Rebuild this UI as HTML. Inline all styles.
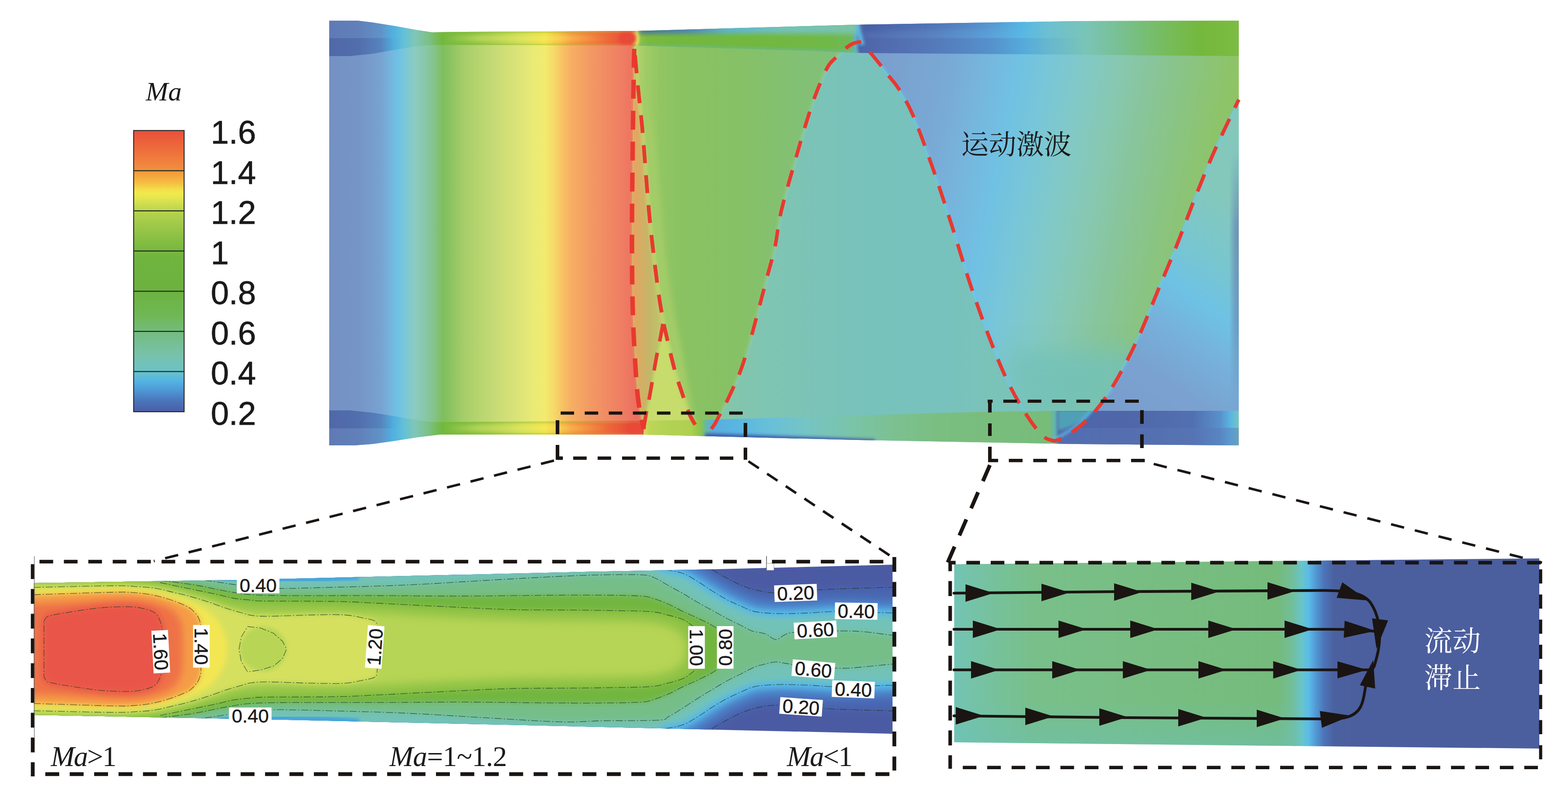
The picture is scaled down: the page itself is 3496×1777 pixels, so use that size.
<!DOCTYPE html>
<html><head><meta charset="utf-8"><title>Ma contour</title>
<style>
html,body{margin:0;padding:0;background:#fff;}
body{width:3496px;height:1777px;overflow:hidden;}
svg{display:block;}
text{font-family:"Liberation Sans",sans-serif;fill:#1a1a1a;}
.se{font-family:"Liberation Serif",serif;}
.it{font-style:italic;}
.cj{font-family:"Liberation Serif","Noto Serif CJK SC",serif;}
</style></head><body>
<svg width="3496" height="1777" viewBox="0 0 3496 1777">
<defs>
<linearGradient id="lg" x1="0" y1="291" x2="0" y2="918" gradientUnits="userSpaceOnUse">
<stop offset="0" stop-color="#e8503a"/>
<stop offset="0.07" stop-color="#ee6e3c"/>
<stop offset="0.135" stop-color="#f28c3e"/>
<stop offset="0.15" stop-color="#f49c3c"/>
<stop offset="0.185" stop-color="#f6bc42"/>
<stop offset="0.21" stop-color="#f4de4a"/>
<stop offset="0.222" stop-color="#f1ea4c"/>
<stop offset="0.24" stop-color="#e4e64e"/>
<stop offset="0.27" stop-color="#c6da4e"/>
<stop offset="0.30" stop-color="#b0d04c"/>
<stop offset="0.33" stop-color="#a2ca4a"/>
<stop offset="0.40" stop-color="#82bc42"/>
<stop offset="0.45" stop-color="#70b43e"/>
<stop offset="0.57" stop-color="#6cb240"/>
<stop offset="0.66" stop-color="#70b856"/>
<stop offset="0.72" stop-color="#74bc80"/>
<stop offset="0.80" stop-color="#78c2ac"/>
<stop offset="0.855" stop-color="#6cc2c6"/>
<stop offset="0.885" stop-color="#56b8e2"/>
<stop offset="0.92" stop-color="#4e9cd8"/>
<stop offset="0.96" stop-color="#4a76bc"/>
<stop offset="1" stop-color="#4a5ea6"/>
</linearGradient>
<clipPath id="cpMain"><path d="M734.0,46.0L797.0,46.0L830.0,50.0L880.0,58.0L930.0,67.0L963.0,72.0L1033.0,71.0L1418.0,69.0L1914.0,55.0L2400.0,47.0L2762.0,46.0L2762.0,993.0L2400.0,990.0L1914.0,981.0L1435.0,969.0L1033.0,969.0L980.0,969.0L930.0,975.0L880.0,983.0L830.0,990.0L790.0,993.0L734.0,993.0Z"/></clipPath>
<linearGradient id="gBase" x1="734" x2="1418" y1="0" y2="0" gradientUnits="userSpaceOnUse"><stop offset="0.0000" stop-color="#7591c4"/><stop offset="0.0965" stop-color="#7695c7"/><stop offset="0.1696" stop-color="#78a3d1"/><stop offset="0.2018" stop-color="#74b6de"/><stop offset="0.2251" stop-color="#6fc2e5"/><stop offset="0.2500" stop-color="#7dc8d6"/><stop offset="0.2792" stop-color="#8bcbc1"/><stop offset="0.3158" stop-color="#88c7a6"/><stop offset="0.3480" stop-color="#84c282"/><stop offset="0.3713" stop-color="#7ebe5e"/><stop offset="0.3889" stop-color="#88c260"/><stop offset="0.4327" stop-color="#a3cc68"/><stop offset="0.4912" stop-color="#b8d56f"/><stop offset="0.5497" stop-color="#c9dc76"/><stop offset="0.6228" stop-color="#dde577"/><stop offset="0.6667" stop-color="#eaea76"/><stop offset="0.7032" stop-color="#f2eb70"/><stop offset="0.7325" stop-color="#f6da68"/><stop offset="0.7617" stop-color="#f8c064"/><stop offset="0.7909" stop-color="#f7ae63"/><stop offset="0.8421" stop-color="#f39c64"/><stop offset="0.9152" stop-color="#f08864"/><stop offset="0.9737" stop-color="#ee7862"/><stop offset="1.0000" stop-color="#ed6f60"/></linearGradient>
<linearGradient id="gStrip" x1="734" x2="1418" y1="0" y2="0" gradientUnits="userSpaceOnUse"><stop offset="0.0000" stop-color="#5f7ab5"/><stop offset="0.0965" stop-color="#6180ba"/><stop offset="0.1696" stop-color="#5f93c8"/><stop offset="0.2105" stop-color="#52b2e0"/><stop offset="0.2427" stop-color="#62c0d8"/><stop offset="0.2792" stop-color="#80c6b8"/><stop offset="0.3231" stop-color="#7cc088"/><stop offset="0.3670" stop-color="#72b83e"/><stop offset="0.4474" stop-color="#86c040"/><stop offset="0.5351" stop-color="#a8cc48"/><stop offset="0.6228" stop-color="#cfdc50"/><stop offset="0.7032" stop-color="#f0e246"/><stop offset="0.7471" stop-color="#f6c040"/><stop offset="0.7909" stop-color="#f59a3c"/><stop offset="0.8567" stop-color="#f07c3a"/><stop offset="0.9298" stop-color="#ec5e3a"/><stop offset="0.9883" stop-color="#e84a38"/><stop offset="1.0000" stop-color="#e84a38"/></linearGradient>
<linearGradient id="gStrip2" x1="734" x2="1418" y1="0" y2="0" gradientUnits="userSpaceOnUse"><stop offset="0.0000" stop-color="#5068a8"/><stop offset="0.0965" stop-color="#526eac"/><stop offset="0.1696" stop-color="#5684be"/><stop offset="0.2105" stop-color="#50aede"/><stop offset="0.2427" stop-color="#62c0d8"/><stop offset="0.2792" stop-color="#80c6b8"/><stop offset="0.3231" stop-color="#7cc088"/><stop offset="0.3670" stop-color="#72b83e"/><stop offset="0.4474" stop-color="#86c040"/><stop offset="0.5351" stop-color="#a8cc48"/><stop offset="0.6228" stop-color="#cfdc50"/><stop offset="0.7032" stop-color="#f0e246"/><stop offset="0.7471" stop-color="#f6c040"/><stop offset="0.7909" stop-color="#f59a3c"/><stop offset="0.8567" stop-color="#f07c3a"/><stop offset="0.9298" stop-color="#ec5e3a"/><stop offset="0.9883" stop-color="#e84a38"/><stop offset="1.0000" stop-color="#e84a38"/></linearGradient>
<linearGradient id="gGreen" x1="1418" x2="1912" y1="0" y2="0" gradientUnits="userSpaceOnUse"><stop offset="0.0000" stop-color="#b6d56c"/><stop offset="0.0445" stop-color="#a0cb66"/><stop offset="0.1053" stop-color="#92c663"/><stop offset="0.2065" stop-color="#8ac262"/><stop offset="0.4696" stop-color="#86c166"/><stop offset="0.7328" stop-color="#82c074"/><stop offset="1.0000" stop-color="#80c07c"/></linearGradient>
<linearGradient id="gTeal" x1="1573" x2="2351" y1="0" y2="0" gradientUnits="userSpaceOnUse"><stop offset="0.0000" stop-color="#86c6a6"/><stop offset="0.1632" stop-color="#80c5b2"/><stop offset="0.4203" stop-color="#78c2bb"/><stop offset="0.6774" stop-color="#77c2bd"/><stop offset="1.0000" stop-color="#7dc4b4"/></linearGradient>
<linearGradient id="gRB" x1="1900" y1="100" x2="2762" y2="272" gradientUnits="userSpaceOnUse"><stop offset="0" stop-color="#7a9ccb"/><stop offset="0.1" stop-color="#7aa0ce"/><stop offset="0.25" stop-color="#79a9d5"/><stop offset="0.34" stop-color="#76b6dd"/><stop offset="0.42" stop-color="#70c1e3"/><stop offset="0.5" stop-color="#78c6d8"/><stop offset="0.59" stop-color="#82c9c6"/><stop offset="0.67" stop-color="#87c8b2"/><stop offset="0.75" stop-color="#88c59c"/><stop offset="0.85" stop-color="#8ac482"/><stop offset="0.95" stop-color="#8dc469"/><stop offset="1" stop-color="#8fc460"/></linearGradient>
<filter id="bl3" x="-20%" y="-20%" width="140%" height="140%"><feGaussianBlur stdDeviation="3"/></filter>
<filter id="bl6" x="-20%" y="-20%" width="140%" height="140%"><feGaussianBlur stdDeviation="6"/></filter>
<filter id="bl12" x="-30%" y="-30%" width="160%" height="160%"><feGaussianBlur stdDeviation="12"/></filter>
<filter id="bl25" x="-40%" y="-40%" width="180%" height="180%"><feGaussianBlur stdDeviation="25"/></filter>
<filter id="bl40" x="-50%" y="-50%" width="200%" height="200%"><feGaussianBlur stdDeviation="40"/></filter>
<linearGradient id="gWedge" x1="1408" x2="1478" y1="0" y2="0" gradientUnits="userSpaceOnUse"><stop offset="0" stop-color="#f09c60"/><stop offset="0.25" stop-color="#d8ac64"/><stop offset="0.6" stop-color="#c2b668"/><stop offset="1" stop-color="#c0c86c"/></linearGradient>
<clipPath id="cpRB"><path d="M1920.0,93.0C1922.0,94.8 1927.7,98.8 1932.0,104.0C1936.3,109.2 1940.7,117.0 1946.0,124.0C1951.3,131.0 1957.8,138.2 1964.0,146.0C1970.2,153.8 1976.2,162.0 1983.0,171.0C1989.8,180.0 1996.2,185.5 2005.0,200.0C2013.8,214.5 2023.8,229.7 2036.0,258.0C2048.2,286.3 2064.0,330.3 2078.0,370.0C2092.0,409.7 2106.0,452.7 2120.0,496.0C2134.0,539.3 2148.0,588.0 2162.0,630.0C2176.0,672.0 2190.0,711.5 2204.0,748.0C2218.0,784.5 2232.0,819.7 2246.0,849.0C2260.0,878.3 2274.8,903.5 2288.0,924.0C2301.2,944.5 2314.5,962.2 2325.0,972.0C2335.5,981.8 2346.7,981.2 2351.0,983.0C2354.5,981.7 2361.5,981.3 2372.0,975.0C2382.5,968.7 2400.0,957.7 2414.0,945.0C2428.0,932.3 2442.0,917.8 2456.0,899.0C2470.0,880.2 2484.0,857.2 2498.0,832.0C2512.0,806.8 2526.0,778.8 2540.0,748.0C2554.0,717.2 2568.0,680.7 2582.0,647.0C2596.0,613.3 2610.0,581.0 2624.0,546.0C2638.0,511.0 2652.0,472.0 2666.0,437.0C2680.0,402.0 2692.0,371.8 2708.0,336.0C2724.0,300.2 2753.0,241.0 2762.0,222.0L2800,222L2800,30L1900,30L1900,92Z"/></clipPath>
<linearGradient id="gR2" x1="2450" y1="950" x2="2780" y2="480" gradientUnits="userSpaceOnUse"><stop offset="0" stop-color="#7a9ccc"/><stop offset="0.30" stop-color="#7aa2d0"/><stop offset="0.48" stop-color="#76b2dc"/><stop offset="0.62" stop-color="#6ec2e4"/><stop offset="0.78" stop-color="#78c6d0"/><stop offset="1" stop-color="#84c8bc"/></linearGradient>
<linearGradient id="gEdge" x1="0" y1="330" x2="0" y2="930" gradientUnits="userSpaceOnUse"><stop offset="0" stop-color="#6a8cb4" stop-opacity="0"/><stop offset="0.3" stop-color="#6a8cb4" stop-opacity="0.85"/><stop offset="0.65" stop-color="#6a8cb4" stop-opacity="0.7"/><stop offset="1" stop-color="#6a8cb4" stop-opacity="0"/></linearGradient>
<clipPath id="cpTop"><path d="M734.0,30.0L2762.0,30.0L2762.0,125.0L2400.0,122.0L1914.0,118.0L1800.0,113.0L1418.0,101.5L963.0,100.0L930.0,103.0L880.0,111.0L830.0,120.0L780.0,125.0L734.0,125.0Z"/></clipPath>
<linearGradient id="gTopPost" x1="1418" x2="2762" y1="0" y2="0" gradientUnits="userSpaceOnUse"><stop offset="0.0000" stop-color="#dce060"/><stop offset="0.0060" stop-color="#8cc244"/><stop offset="0.0201" stop-color="#7aba3c"/><stop offset="0.0610" stop-color="#74b83c"/><stop offset="0.2098" stop-color="#72b840"/><stop offset="0.3214" stop-color="#70b848"/><stop offset="0.3557" stop-color="#70b858"/><stop offset="0.3646" stop-color="#60b0c8"/><stop offset="0.3705" stop-color="#5068ac"/><stop offset="0.4033" stop-color="#5470b2"/><stop offset="0.4926" stop-color="#5a82c0"/><stop offset="0.5818" stop-color="#5a9ed6"/><stop offset="0.6414" stop-color="#58b8e4"/><stop offset="0.6860" stop-color="#6cc0d0"/><stop offset="0.7455" stop-color="#7ac4b8"/><stop offset="0.8051" stop-color="#78c090"/><stop offset="0.8795" stop-color="#76bc5c"/><stop offset="0.9390" stop-color="#74b83c"/><stop offset="1.0000" stop-color="#7cbc44"/></linearGradient>
<linearGradient id="gDk" x1="1916" x2="2420" y1="0" y2="0" gradientUnits="userSpaceOnUse"><stop offset="0" stop-color="#4a5ea4" stop-opacity="0.4"/><stop offset="0.6" stop-color="#4a70b4" stop-opacity="0.3"/><stop offset="1" stop-color="#4a80c0" stop-opacity="0"/></linearGradient>
<linearGradient id="gGE" x1="980" x2="1420" y1="0" y2="0" gradientUnits="userSpaceOnUse"><stop offset="0" stop-color="#78b840" stop-opacity="0.8"/><stop offset="0.6" stop-color="#8cc040" stop-opacity="0.7"/><stop offset="1" stop-color="#c8c850" stop-opacity="0.45"/></linearGradient>
<linearGradient id="gHL" x1="990" x2="1360" y1="0" y2="0" gradientUnits="userSpaceOnUse"><stop offset="0" stop-color="#fbf78c" stop-opacity="0"/><stop offset="0.2" stop-color="#fbf78c" stop-opacity="0.28"/><stop offset="0.7" stop-color="#fbf78c" stop-opacity="0.28"/><stop offset="1" stop-color="#fbf78c" stop-opacity="0"/></linearGradient>
<linearGradient id="gTW" x1="1425" x2="1914" y1="0" y2="0" gradientUnits="userSpaceOnUse"><stop offset="0" stop-color="#3c5cb0"/><stop offset="0.22" stop-color="#4a7cc4"/><stop offset="0.4" stop-color="#5ab4dc"/><stop offset="0.65" stop-color="#72c2c0"/><stop offset="1" stop-color="#7cc4a4"/></linearGradient>
<linearGradient id="gTV" x1="1922" x2="2300" y1="0" y2="0" gradientUnits="userSpaceOnUse"><stop offset="0" stop-color="#3c4c98" stop-opacity="0.4"/><stop offset="0.6" stop-color="#3c5ca8" stop-opacity="0.25"/><stop offset="1" stop-color="#3c6cb8" stop-opacity="0"/></linearGradient>
<clipPath id="cpBot"><path d="M734.0,915.0L780.0,915.0L830.0,920.0L880.0,928.0L930.0,937.0L963.0,941.0L1435.0,938.0L1575.0,936.0L2200.0,918.0L2359.0,916.0L2762.0,916.0L2762.0,1010.0L734.0,1010.0Z"/></clipPath>
<linearGradient id="gBotPost" x1="1435" x2="2762" y1="0" y2="0" gradientUnits="userSpaceOnUse"><stop offset="0.0000" stop-color="#e8e060"/><stop offset="0.0075" stop-color="#c0d658"/><stop offset="0.0339" stop-color="#b4d254"/><stop offset="0.0791" stop-color="#aed050"/><stop offset="0.0957" stop-color="#8cc44c"/><stop offset="0.1047" stop-color="#66b8a4"/><stop offset="0.1168" stop-color="#5cacdc"/><stop offset="0.1545" stop-color="#58b6e2"/><stop offset="0.2148" stop-color="#68c0d8"/><stop offset="0.2751" stop-color="#76c4c4"/><stop offset="0.3504" stop-color="#7ac4a8"/><stop offset="0.4258" stop-color="#7cc090"/><stop offset="0.5011" stop-color="#7abe80"/><stop offset="0.6820" stop-color="#78bc7a"/><stop offset="0.6910" stop-color="#62b4b0"/><stop offset="0.6986" stop-color="#4e66aa"/><stop offset="0.8026" stop-color="#4f66a8"/><stop offset="0.9231" stop-color="#5270b0"/><stop offset="0.9683" stop-color="#5890cc"/><stop offset="0.9872" stop-color="#5ab8e2"/><stop offset="1.0000" stop-color="#78c4c0"/></linearGradient>
<clipPath id="cpI1"><path d="M75.0,1300.0L529.0,1293.0L1300.0,1275.0L1600.0,1269.0L1990.0,1259.0L1990.0,1636.0L1300.0,1620.0L640.0,1605.0L75.0,1594.0Z"/></clipPath>
<filter id="b3" x="-5%" y="-30%" width="110%" height="160%"><feGaussianBlur stdDeviation="3"/></filter>
<filter id="b4" x="-5%" y="-30%" width="110%" height="160%"><feGaussianBlur stdDeviation="4"/></filter>
<filter id="b5" x="-5%" y="-30%" width="110%" height="160%"><feGaussianBlur stdDeviation="5"/></filter>
<filter id="b6" x="-5%" y="-30%" width="110%" height="160%"><feGaussianBlur stdDeviation="6"/></filter>
<filter id="b7" x="-5%" y="-30%" width="110%" height="160%"><feGaussianBlur stdDeviation="7"/></filter>
<filter id="b8" x="-5%" y="-30%" width="110%" height="160%"><feGaussianBlur stdDeviation="8"/></filter>
<filter id="b10" x="-5%" y="-30%" width="110%" height="160%"><feGaussianBlur stdDeviation="10"/></filter>
<filter id="b12" x="-5%" y="-30%" width="110%" height="160%"><feGaussianBlur stdDeviation="12"/></filter>
<clipPath id="cpI2"><path d="M2127.5,1258.0L3432.0,1245.0L3432.0,1669.0L2127.5,1655.0Z"/></clipPath>
<linearGradient id="gI2" x1="2127" x2="3432" y1="0" y2="0" gradientUnits="userSpaceOnUse"><stop offset="0.0000" stop-color="#72c4b4"/><stop offset="0.0559" stop-color="#76c2a0"/><stop offset="0.1326" stop-color="#78bf8a"/><stop offset="0.2858" stop-color="#78be84"/><stop offset="0.4774" stop-color="#76bc7e"/><stop offset="0.5540" stop-color="#74bb7c"/><stop offset="0.5770" stop-color="#72be98"/><stop offset="0.5939" stop-color="#68c4c8"/><stop offset="0.6061" stop-color="#5abce8"/><stop offset="0.6184" stop-color="#5298d4"/><stop offset="0.6322" stop-color="#4c74b8"/><stop offset="0.6498" stop-color="#4b609f"/><stop offset="0.7456" stop-color="#4b5e9e"/><stop offset="1.0000" stop-color="#4b5e9e"/></linearGradient>
<linearGradient id="gI2b" x1="0" x2="0" y1="1560" y2="1665" gradientUnits="userSpaceOnUse"><stop offset="0" stop-color="#6cc0b4" stop-opacity="0"/><stop offset="1" stop-color="#6cc0b4" stop-opacity="0.55"/></linearGradient>
</defs>
<rect width="3496" height="1777" fill="#ffffff"/>
<rect x="298" y="291" width="112.5" height="627" fill="url(#lg)" stroke="#2a2a2a" stroke-width="2.2"/>
<line x1="298" x2="410.5" y1="380.6" y2="380.6" stroke="#1e2a1e" stroke-width="2.2"/>
<line x1="298" x2="410.5" y1="470.1" y2="470.1" stroke="#1e2a1e" stroke-width="2.2"/>
<line x1="298" x2="410.5" y1="559.7" y2="559.7" stroke="#1e2a1e" stroke-width="2.2"/>
<line x1="298" x2="410.5" y1="649.3" y2="649.3" stroke="#1e2a1e" stroke-width="2.2"/>
<line x1="298" x2="410.5" y1="738.9" y2="738.9" stroke="#1e2a1e" stroke-width="2.2"/>
<line x1="298" x2="410.5" y1="828.4" y2="828.4" stroke="#1e2a1e" stroke-width="2.2"/>
<text class="se it" x="325" y="224" font-size="60">Ma</text>
<text x="470" y="320.0" font-size="72.5" stroke="#1a1a1a" stroke-width="0.8">1.6</text>
<text x="470" y="409.6" font-size="72.5" stroke="#1a1a1a" stroke-width="0.8">1.4</text>
<text x="470" y="499.1" font-size="72.5" stroke="#1a1a1a" stroke-width="0.8">1.2</text>
<text x="470" y="588.7" font-size="72.5" stroke="#1a1a1a" stroke-width="0.8">1</text>
<text x="470" y="678.3" font-size="72.5" stroke="#1a1a1a" stroke-width="0.8">0.8</text>
<text x="470" y="767.9" font-size="72.5" stroke="#1a1a1a" stroke-width="0.8">0.6</text>
<text x="470" y="857.4" font-size="72.5" stroke="#1a1a1a" stroke-width="0.8">0.4</text>
<text x="470" y="947.0" font-size="72.5" stroke="#1a1a1a" stroke-width="0.8">0.2</text>
<g clip-path="url(#cpMain)">
<rect x="700" y="30" width="740" height="980" fill="url(#gBase)"/>
<path d="M1414.0,40.0C1414.0,50.5 1414.5,59.7 1414.0,103.0C1413.5,146.3 1411.8,228.8 1411.0,300.0C1410.2,371.2 1409.0,463.3 1409.0,530.0C1409.0,596.7 1409.5,649.0 1411.0,700.0C1412.5,751.0 1415.8,802.7 1418.0,836.0C1420.2,869.3 1421.2,879.8 1424.0,900.0C1426.8,920.2 1433.0,940.3 1435.0,957.0C1437.0,973.7 1435.8,992.8 1436.0,1000.0L1940,1000L1940,40Z" fill="url(#gGreen)"/>
<path d="M1414.0,103.0C1415.3,117.5 1419.0,159.5 1422.0,190.0C1425.0,220.5 1428.8,251.0 1432.0,286.0C1435.2,321.0 1438.2,365.5 1441.0,400.0C1443.8,434.5 1445.8,461.3 1449.0,493.0C1452.2,524.7 1456.5,561.3 1460.0,590.0C1463.5,618.7 1466.7,642.8 1470.0,665.0C1473.3,687.2 1474.5,697.2 1480.0,723.0C1485.5,748.8 1496.0,793.8 1503.0,820.0C1510.0,846.2 1516.3,862.8 1522.0,880.0C1527.7,897.2 1532.3,911.8 1537.0,923.0C1541.7,934.2 1545.8,941.3 1550.0,947.0C1554.2,952.7 1558.2,954.8 1562.0,957.0C1565.8,959.2 1571.2,959.5 1573.0,960.0L1573.0,960.0C1569.5,956.7 1558.0,955.0 1552.0,940.0C1546.0,925.0 1542.7,898.7 1537.0,870.0C1531.3,841.3 1524.2,799.7 1518.0,768.0C1511.8,736.3 1505.8,714.5 1500.0,680.0C1494.2,645.5 1488.0,604.3 1483.0,561.0C1478.0,517.7 1474.5,465.8 1470.0,420.0C1465.5,374.2 1462.3,324.3 1456.0,286.0C1449.7,247.7 1439.0,220.5 1432.0,190.0C1425.0,159.5 1417.0,117.5 1414.0,103.0Z" fill="#a2cc68" filter="url(#bl6)"/>
<path d="M1414.0,103.0C1415.3,117.5 1419.0,159.5 1422.0,190.0C1425.0,220.5 1428.8,251.0 1432.0,286.0C1435.2,321.0 1438.2,365.5 1441.0,400.0C1443.8,434.5 1445.8,461.3 1449.0,493.0C1452.2,524.7 1456.5,561.3 1460.0,590.0C1463.5,618.7 1466.7,642.8 1470.0,665.0C1473.3,687.2 1478.3,713.3 1480.0,723.0L1478.0,722.0C1477.0,727.5 1474.7,741.2 1472.0,755.0C1469.3,768.8 1465.8,784.2 1462.0,805.0C1458.2,825.8 1452.5,860.8 1449.0,880.0C1445.5,899.2 1443.3,907.2 1441.0,920.0C1438.7,932.8 1436.0,950.8 1435.0,957.0L1435.0,957.0C1433.2,947.5 1426.8,920.2 1424.0,900.0C1421.2,879.8 1420.2,869.3 1418.0,836.0C1415.8,802.7 1412.5,751.0 1411.0,700.0C1409.5,649.0 1409.0,596.7 1409.0,530.0C1409.0,463.3 1410.2,371.2 1411.0,300.0C1411.8,228.8 1413.5,135.8 1414.0,103.0Z" fill="url(#gWedge)" filter="url(#bl3)"/>
<path d="M1435.0,957.0C1436.0,950.8 1438.7,932.8 1441.0,920.0C1443.3,907.2 1445.5,899.2 1449.0,880.0C1452.5,860.8 1458.2,825.8 1462.0,805.0C1465.8,784.2 1469.3,768.8 1472.0,755.0C1474.7,741.2 1477.0,727.5 1478.0,722.0L1480.0,723.0C1483.8,739.2 1496.0,793.8 1503.0,820.0C1510.0,846.2 1516.3,862.8 1522.0,880.0C1527.7,897.2 1532.3,911.8 1537.0,923.0C1541.7,934.2 1545.8,941.3 1550.0,947.0C1554.2,952.7 1558.2,954.8 1562.0,957.0C1565.8,959.2 1571.2,959.5 1573.0,960.0L1573,1000L1436,1000Z" fill="#c8dc6c" filter="url(#bl3)"/>
<path d="M1920.0,93.0C1922.0,94.8 1927.7,98.8 1932.0,104.0C1936.3,109.2 1940.7,117.0 1946.0,124.0C1951.3,131.0 1957.8,138.2 1964.0,146.0C1970.2,153.8 1976.2,162.0 1983.0,171.0C1989.8,180.0 1996.2,185.5 2005.0,200.0C2013.8,214.5 2023.8,229.7 2036.0,258.0C2048.2,286.3 2064.0,330.3 2078.0,370.0C2092.0,409.7 2106.0,452.7 2120.0,496.0C2134.0,539.3 2148.0,588.0 2162.0,630.0C2176.0,672.0 2190.0,711.5 2204.0,748.0C2218.0,784.5 2232.0,819.7 2246.0,849.0C2260.0,878.3 2274.8,903.5 2288.0,924.0C2301.2,944.5 2314.5,962.2 2325.0,972.0C2335.5,981.8 2346.7,981.2 2351.0,983.0C2354.5,981.7 2361.5,981.3 2372.0,975.0C2382.5,968.7 2400.0,957.7 2414.0,945.0C2428.0,932.3 2442.0,917.8 2456.0,899.0C2470.0,880.2 2484.0,857.2 2498.0,832.0C2512.0,806.8 2526.0,778.8 2540.0,748.0C2554.0,717.2 2568.0,680.7 2582.0,647.0C2596.0,613.3 2610.0,581.0 2624.0,546.0C2638.0,511.0 2652.0,472.0 2666.0,437.0C2680.0,402.0 2692.0,371.8 2708.0,336.0C2724.0,300.2 2753.0,241.0 2762.0,222.0L2800,222L2800,30L1900,30L1900,92Z" fill="url(#gRB)"/>
<g clip-path="url(#cpRB)"><path d="M2240,780L2560,780L2470,935L2270,935Z" fill="#73c1b8" opacity="0.85" filter="url(#bl25)"/></g>
<path d="M1573.0,960.0C1575.0,959.3 1581.5,958.5 1585.0,956.0C1588.5,953.5 1591.0,949.7 1594.0,945.0C1597.0,940.3 1598.5,936.5 1603.0,928.0C1607.5,919.5 1613.3,910.0 1621.0,894.0C1628.7,878.0 1640.8,852.7 1649.0,832.0C1657.2,811.3 1662.5,795.3 1670.0,770.0C1677.5,744.7 1687.2,705.8 1694.0,680.0C1700.8,654.2 1705.3,636.7 1711.0,615.0C1716.7,593.3 1722.8,574.2 1728.0,550.0C1733.2,525.8 1733.7,505.0 1742.0,470.0C1750.3,435.0 1768.5,373.5 1778.0,340.0C1787.5,306.5 1792.0,291.2 1799.0,269.0C1806.0,246.8 1812.3,226.8 1820.0,207.0C1827.7,187.2 1837.8,163.0 1845.0,150.0C1852.2,137.0 1856.5,135.8 1863.0,129.0C1869.5,122.2 1877.5,114.3 1884.0,109.0C1890.5,103.7 1896.0,99.7 1902.0,97.0C1908.0,94.3 1917.0,93.7 1920.0,93.0C1922.0,94.8 1927.7,98.8 1932.0,104.0C1936.3,109.2 1940.7,117.0 1946.0,124.0C1951.3,131.0 1957.8,138.2 1964.0,146.0C1970.2,153.8 1976.2,162.0 1983.0,171.0C1989.8,180.0 1996.2,185.5 2005.0,200.0C2013.8,214.5 2023.8,229.7 2036.0,258.0C2048.2,286.3 2064.0,330.3 2078.0,370.0C2092.0,409.7 2106.0,452.7 2120.0,496.0C2134.0,539.3 2148.0,588.0 2162.0,630.0C2176.0,672.0 2190.0,711.5 2204.0,748.0C2218.0,784.5 2232.0,819.7 2246.0,849.0C2260.0,878.3 2274.8,903.5 2288.0,924.0C2301.2,944.5 2314.5,962.2 2325.0,972.0C2335.5,981.8 2346.7,981.2 2351.0,983.0L2351,1000L1573,1000Z" fill="url(#gTeal)"/>
<path d="M2351.0,983.0C2354.5,981.7 2361.5,981.3 2372.0,975.0C2382.5,968.7 2400.0,957.7 2414.0,945.0C2428.0,932.3 2442.0,917.8 2456.0,899.0C2470.0,880.2 2484.0,857.2 2498.0,832.0C2512.0,806.8 2526.0,778.8 2540.0,748.0C2554.0,717.2 2568.0,680.7 2582.0,647.0C2596.0,613.3 2610.0,581.0 2624.0,546.0C2638.0,511.0 2652.0,472.0 2666.0,437.0C2680.0,402.0 2692.0,371.8 2708.0,336.0C2724.0,300.2 2753.0,241.0 2762.0,222.0L2800,222L2800,1000L2351,1000Z" fill="url(#gR2)"/>
<rect x="2748" y="330" width="30" height="600" fill="url(#gEdge)" filter="url(#bl6)"/>
<path d="M1920.0,93.0C1922.0,94.8 1927.7,98.8 1932.0,104.0C1936.3,109.2 1940.7,117.0 1946.0,124.0C1951.3,131.0 1957.8,138.2 1964.0,146.0C1970.2,153.8 1976.2,162.0 1983.0,171.0C1989.8,180.0 1996.2,185.5 2005.0,200.0C2013.8,214.5 2023.8,229.7 2036.0,258.0C2048.2,286.3 2064.0,330.3 2078.0,370.0C2092.0,409.7 2106.0,452.7 2120.0,496.0C2134.0,539.3 2148.0,588.0 2162.0,630.0C2176.0,672.0 2190.0,711.5 2204.0,748.0C2218.0,784.5 2232.0,819.7 2246.0,849.0C2260.0,878.3 2274.8,903.5 2288.0,924.0C2301.2,944.5 2314.5,962.2 2325.0,972.0C2335.5,981.8 2346.7,981.2 2351.0,983.0C2354.5,981.7 2361.5,981.3 2372.0,975.0C2382.5,968.7 2400.0,957.7 2414.0,945.0C2428.0,932.3 2442.0,917.8 2456.0,899.0C2470.0,880.2 2484.0,857.2 2498.0,832.0C2512.0,806.8 2526.0,778.8 2540.0,748.0C2554.0,717.2 2568.0,680.7 2582.0,647.0C2596.0,613.3 2610.0,581.0 2624.0,546.0C2638.0,511.0 2652.0,472.0 2666.0,437.0C2680.0,402.0 2692.0,371.8 2708.0,336.0C2724.0,300.2 2753.0,241.0 2762.0,222.0" fill="none" stroke="#66c6ee" stroke-width="7" opacity="0.55" filter="url(#bl3)"/>
<path d="M1573.0,960.0C1575.0,959.3 1581.5,958.5 1585.0,956.0C1588.5,953.5 1591.0,949.7 1594.0,945.0C1597.0,940.3 1598.5,936.5 1603.0,928.0C1607.5,919.5 1613.3,910.0 1621.0,894.0C1628.7,878.0 1640.8,852.7 1649.0,832.0C1657.2,811.3 1662.5,795.3 1670.0,770.0C1677.5,744.7 1687.2,705.8 1694.0,680.0C1700.8,654.2 1705.3,636.7 1711.0,615.0C1716.7,593.3 1722.8,574.2 1728.0,550.0C1733.2,525.8 1733.7,505.0 1742.0,470.0C1750.3,435.0 1768.5,373.5 1778.0,340.0C1787.5,306.5 1792.0,291.2 1799.0,269.0C1806.0,246.8 1812.3,226.8 1820.0,207.0C1827.7,187.2 1837.8,163.0 1845.0,150.0C1852.2,137.0 1856.5,135.8 1863.0,129.0C1869.5,122.2 1877.5,114.3 1884.0,109.0C1890.5,103.7 1896.0,99.7 1902.0,97.0C1908.0,94.3 1917.0,93.7 1920.0,93.0" fill="none" stroke="#9ad0a0" stroke-width="6" opacity="0.5" filter="url(#bl3)"/>
<path d="M1414.0,103.0C1415.3,117.5 1419.0,159.5 1422.0,190.0C1425.0,220.5 1428.8,251.0 1432.0,286.0C1435.2,321.0 1438.2,365.5 1441.0,400.0C1443.8,434.5 1445.8,461.3 1449.0,493.0C1452.2,524.7 1456.5,561.3 1460.0,590.0C1463.5,618.7 1466.7,642.8 1470.0,665.0C1473.3,687.2 1474.5,697.2 1480.0,723.0C1485.5,748.8 1496.0,793.8 1503.0,820.0C1510.0,846.2 1516.3,862.8 1522.0,880.0C1527.7,897.2 1532.3,911.8 1537.0,923.0C1541.7,934.2 1545.8,941.3 1550.0,947.0C1554.2,952.7 1558.2,954.8 1562.0,957.0C1565.8,959.2 1571.2,959.5 1573.0,960.0" fill="none" stroke="#c6dc70" stroke-width="8" opacity="0.7" filter="url(#bl3)"/>
<g clip-path="url(#cpTop)">
<rect x="700" y="30" width="720" height="56" fill="url(#gStrip)"/>
<rect x="700" y="85" width="720" height="45" fill="url(#gStrip2)"/>
<rect x="1418" y="30" width="1400" height="100" fill="url(#gTopPost)"/>
<rect x="1916" y="85" width="504" height="45" fill="url(#gDk)"/>
<rect x="980" y="69" width="438" height="4" fill="url(#gGE)" filter="url(#bl3)"/>
<rect x="980" y="98" width="438" height="4" fill="url(#gGE)" filter="url(#bl3)"/>
<rect x="990" y="79" width="370" height="13" fill="url(#gHL)" filter="url(#bl3)"/>
<rect x="1409" y="70" width="16" height="31" rx="8" fill="#e8e060" filter="url(#bl3)" opacity="0.9"/>
<rect x="1380" y="73" width="38" height="25" rx="10" fill="#e84a38" filter="url(#bl3)"/>
<path d="M1425,62L1914,46L1914,76L1700,74L1425,74Z" fill="url(#gTW)" filter="url(#bl6)"/>
<path d="M1425,99L1914,113L1914,122L1425,105Z" fill="#6cb89c" filter="url(#bl3)" opacity="0.8"/>
<path d="M1906,50L1914,50L1928,100L1916,100Z" fill="#5cc0ea" filter="url(#bl3)" opacity="0.9"/>
<path d="M1922,40L2300,40L2300,62L1922,70Z" fill="url(#gTV)" filter="url(#bl6)"/>
</g>
<g clip-path="url(#cpBot)">
<rect x="700" y="900" width="740" height="56" fill="url(#gStrip2)"/>
<rect x="700" y="955" width="740" height="56" fill="url(#gStrip)"/>
<rect x="1435" y="900" width="1400" height="110" fill="url(#gBotPost)"/>
<rect x="2362" y="954" width="420" height="60" fill="#5a78b8" opacity="0.45"/>
<path d="M2359,914L2436,914C2418,938 2392,952 2364,958L2359,958Z" fill="#50a0b6" filter="url(#bl3)"/>
<path transform="translate(-5,-4)" d="M2351.0,983.0C2354.5,981.7 2361.5,981.3 2372.0,975.0C2382.5,968.7 2400.0,957.7 2414.0,945.0C2428.0,932.3 2449.0,906.7 2456.0,899.0" fill="none" stroke="#5cc4ee" stroke-width="5" opacity="0.9" filter="url(#bl3)"/>
<path d="M1572,966L1950,979L1950,990L1572,980Z" fill="#3e56a8" filter="url(#bl3)" opacity="0.9"/>
<rect x="980" y="939" width="455" height="4" fill="url(#gGE)" filter="url(#bl3)"/>
<rect x="980" y="966" width="455" height="4" fill="url(#gGE)" filter="url(#bl3)"/>
<rect x="990" y="948" width="370" height="13" fill="url(#gHL)" filter="url(#bl3)"/>
<rect x="1395" y="943" width="40" height="23" rx="10" fill="#e84a38" filter="url(#bl3)"/>
</g>
</g>
<path d="M1414.0,103.0C1413.5,135.8 1411.8,228.8 1411.0,300.0C1410.2,371.2 1409.0,463.3 1409.0,530.0C1409.0,596.7 1409.5,649.0 1411.0,700.0C1412.5,751.0 1415.8,802.7 1418.0,836.0C1420.2,869.3 1421.2,879.8 1424.0,900.0C1426.8,920.2 1433.2,947.5 1435.0,957.0" fill="none" stroke="#e8392f" stroke-linecap="butt" stroke-width="10" stroke-dasharray="42 27" stroke-dashoffset="-6"/>
<path d="M1480.0,723.0C1478.3,713.3 1473.3,687.2 1470.0,665.0C1466.7,642.8 1463.5,618.7 1460.0,590.0C1456.5,561.3 1452.2,524.7 1449.0,493.0C1445.8,461.3 1443.8,434.5 1441.0,400.0C1438.2,365.5 1435.2,321.0 1432.0,286.0C1428.8,251.0 1425.0,220.5 1422.0,190.0C1419.0,159.5 1415.3,117.5 1414.0,103.0" fill="none" stroke="#e8392f" stroke-linecap="butt" stroke-width="8.5" stroke-dasharray="40 27" stroke-dashoffset="40"/>
<path d="M1480.0,723.0C1483.8,739.2 1496.0,793.8 1503.0,820.0C1510.0,846.2 1516.3,862.8 1522.0,880.0C1527.7,897.2 1532.3,911.8 1537.0,923.0C1541.7,934.2 1547.8,943.0 1550.0,947.0" fill="none" stroke="#e8392f" stroke-linecap="butt" stroke-width="8.5" stroke-dasharray="38 28"/>
<path d="M1478.0,722.0C1477.0,727.5 1474.7,741.2 1472.0,755.0C1469.3,768.8 1465.8,784.2 1462.0,805.0C1458.2,825.8 1452.5,860.8 1449.0,880.0C1445.5,899.2 1443.3,907.2 1441.0,920.0C1438.7,932.8 1436.0,950.8 1435.0,957.0" fill="none" stroke="#e8392f" stroke-linecap="butt" stroke-width="8" stroke-dasharray="40 26"/>
<path d="M1586,956.5L1594,945C1595.5,942.2 1598.5,936.5 1603.0,928.0C1607.5,919.5 1613.3,910.0 1621.0,894.0C1628.7,878.0 1641.8,849.7 1649.0,832.0C1656.2,814.3 1661.5,795.3 1664.0,788.0" fill="none" stroke="#e8392f" stroke-linecap="butt" stroke-width="8" stroke-dasharray="40 28"/>
<path d="M1920.0,93.0C1917.0,93.7 1908.0,94.3 1902.0,97.0C1896.0,99.7 1890.5,103.7 1884.0,109.0C1877.5,114.3 1869.5,122.2 1863.0,129.0C1856.5,135.8 1852.2,137.0 1845.0,150.0C1837.8,163.0 1827.7,187.2 1820.0,207.0C1812.3,226.8 1806.0,246.8 1799.0,269.0C1792.0,291.2 1787.5,306.5 1778.0,340.0C1768.5,373.5 1750.3,435.0 1742.0,470.0C1733.7,505.0 1733.2,525.8 1728.0,550.0C1722.8,574.2 1716.7,593.3 1711.0,615.0C1705.3,636.7 1700.8,654.2 1694.0,680.0C1687.2,705.8 1674.0,755.0 1670.0,770.0" fill="none" stroke="#e8392f" stroke-linecap="butt" stroke-width="8" stroke-dasharray="38 30"/>
<path d="M1939,115.6L1946,124C1949.0,127.7 1957.8,138.2 1964.0,146.0C1970.2,153.8 1976.2,162.0 1983.0,171.0C1989.8,180.0 1996.2,185.5 2005.0,200.0C2013.8,214.5 2023.8,229.7 2036.0,258.0C2048.2,286.3 2064.0,330.3 2078.0,370.0C2092.0,409.7 2106.0,452.7 2120.0,496.0C2134.0,539.3 2148.0,588.0 2162.0,630.0C2176.0,672.0 2190.0,711.5 2204.0,748.0C2218.0,784.5 2232.0,819.7 2246.0,849.0C2260.0,878.3 2274.8,903.5 2288.0,924.0C2301.2,944.5 2314.5,962.2 2325.0,972.0C2335.5,981.8 2346.7,981.2 2351.0,983.0C2354.5,981.7 2361.5,981.3 2372.0,975.0C2382.5,968.7 2400.0,957.7 2414.0,945.0C2428.0,932.3 2442.0,917.8 2456.0,899.0C2470.0,880.2 2484.0,857.2 2498.0,832.0C2512.0,806.8 2526.0,778.8 2540.0,748.0C2554.0,717.2 2568.0,680.7 2582.0,647.0C2596.0,613.3 2610.0,581.0 2624.0,546.0C2638.0,511.0 2652.0,472.0 2666.0,437.0C2680.0,402.0 2692.0,371.8 2708.0,336.0C2724.0,300.2 2753.0,241.0 2762.0,222.0" fill="none" stroke="#e8392f" stroke-linecap="butt" stroke-width="8" stroke-dasharray="41 27"/>
<text class="cj" x="2143" y="344" font-size="61.5">运动激波</text>
<line x1="1250" y1="921" x2="1662" y2="921" stroke="#1a1512" stroke-width="7" stroke-dasharray="30 23.7" stroke-dashoffset="0"/>
<line x1="1243" y1="937" x2="1243" y2="1025" stroke="#1a1512" stroke-width="8" stroke-dasharray="31 24" stroke-dashoffset="0"/>
<line x1="1243" y1="1021.5" x2="1662" y2="1021.5" stroke="#1a1512" stroke-width="7.5" stroke-dasharray="30 24.5" stroke-dashoffset="-35"/>
<line x1="1239" y1="1021.5" x2="1255" y2="1021.5" stroke="#1a1512" stroke-width="7.5" stroke-dasharray="30 0" stroke-dashoffset="0"/>
<line x1="1662" y1="943" x2="1662" y2="1025" stroke="#1a1512" stroke-width="8" stroke-dasharray="31 24" stroke-dashoffset="0"/>
<line x1="2202" y1="894.5" x2="2547" y2="894.5" stroke="#1a1512" stroke-width="7.2" stroke-dasharray="30.5 23.8" stroke-dashoffset="19.3"/>
<line x1="2207" y1="891.8" x2="2207" y2="1031" stroke="#1a1512" stroke-width="8" stroke-dasharray="28 24.1" stroke-dashoffset="0"/>
<line x1="2203" y1="1026.7" x2="2553.5" y2="1026.7" stroke="#1a1512" stroke-width="7.5" stroke-dasharray="30.6 23.9" stroke-dashoffset="8.2"/>
<line x1="2546" y1="914.6" x2="2546" y2="1000" stroke="#1a1512" stroke-width="8" stroke-dasharray="30.5 23.3" stroke-dashoffset="0"/>
<line x1="1243" y1="1025" x2="343" y2="1251" stroke="#1a1512" stroke-width="5.5" stroke-dasharray="30 24" stroke-dashoffset="-8"/>
<line x1="1662" y1="1024" x2="1998" y2="1248" stroke="#1a1512" stroke-width="5.5" stroke-dasharray="28 22" stroke-dashoffset="-8"/>
<line x1="2207" y1="1037" x2="2113" y2="1254" stroke="#1a1512" stroke-width="8.5" stroke-dasharray="39 27" stroke-dashoffset="0"/>
<line x1="2551" y1="1029" x2="3438" y2="1254.5" stroke="#1a1512" stroke-width="5.5" stroke-dasharray="30 24.6" stroke-dashoffset="-22"/>
<g clip-path="url(#cpI1)">
<rect x="40" y="1200" width="2000" height="480" fill="#4b5ba3"/>
<path d="M30.0,1150.0C286.7,1150.0 1311.7,1132.5 1570.0,1150.0C1828.3,1167.5 1577.2,1235.0 1580.0,1255.0C1582.8,1275.0 1580.5,1264.5 1587.0,1270.0C1593.5,1275.5 1608.3,1282.3 1619.0,1288.0C1629.7,1293.7 1640.3,1299.5 1651.0,1304.0C1661.7,1308.5 1670.7,1312.0 1683.0,1315.0C1695.3,1318.0 1708.8,1321.3 1725.0,1322.0C1741.2,1322.7 1763.0,1320.2 1780.0,1319.0C1797.0,1317.8 1807.0,1316.2 1827.0,1315.0C1847.0,1313.8 1864.5,1313.2 1900.0,1312.0C1935.5,1310.8 2016.7,1308.7 2040.0,1308.0L2040.0,1586.4C2016.7,1585.7 1935.5,1583.6 1900.0,1582.4C1864.5,1581.2 1847.0,1580.6 1827.0,1579.4C1807.0,1578.2 1797.0,1576.6 1780.0,1575.4C1763.0,1574.2 1741.2,1571.7 1725.0,1572.4C1708.8,1573.1 1695.3,1576.4 1683.0,1579.4C1670.7,1582.4 1661.7,1585.9 1651.0,1590.4C1640.3,1594.9 1629.7,1600.7 1619.0,1606.4C1608.3,1612.1 1593.5,1618.9 1587.0,1624.4C1580.5,1629.9 1582.8,1619.4 1580.0,1639.4C1577.2,1659.4 1828.3,1726.9 1570.0,1744.4C1311.7,1761.9 286.7,1744.4 30.0,1744.4Z" fill="#4a66b2" filter="url(#b8)"/>
<path d="M30.0,1150.0C269.2,1150.0 1224.0,1132.5 1465.0,1150.0C1706.0,1167.5 1472.8,1235.0 1476.0,1255.0C1479.2,1275.0 1476.2,1266.1 1484.0,1270.0C1491.8,1273.9 1511.2,1274.2 1523.0,1278.5C1534.8,1282.8 1544.3,1289.6 1555.0,1296.0C1565.7,1302.4 1576.3,1310.3 1587.0,1317.0C1597.7,1323.7 1608.3,1330.3 1619.0,1336.0C1629.7,1341.7 1640.3,1346.4 1651.0,1351.0C1661.7,1355.6 1669.7,1360.7 1683.0,1363.5C1696.3,1366.3 1712.3,1367.4 1731.0,1368.0C1749.7,1368.6 1773.7,1367.8 1795.0,1367.0C1816.3,1366.2 1836.5,1363.8 1859.0,1363.5C1881.5,1363.2 1899.8,1364.2 1930.0,1365.0C1960.2,1365.8 2021.7,1367.5 2040.0,1368.0L2040.0,1526.4C2021.7,1526.9 1960.2,1528.7 1930.0,1529.4C1899.8,1530.2 1881.5,1531.2 1859.0,1530.9C1836.5,1530.6 1816.3,1528.2 1795.0,1527.4C1773.7,1526.7 1749.7,1525.8 1731.0,1526.4C1712.3,1527.0 1696.3,1528.1 1683.0,1530.9C1669.7,1533.7 1661.7,1538.8 1651.0,1543.4C1640.3,1548.0 1629.7,1552.7 1619.0,1558.4C1608.3,1564.1 1597.7,1570.7 1587.0,1577.4C1576.3,1584.1 1565.7,1592.0 1555.0,1598.4C1544.3,1604.8 1534.8,1611.6 1523.0,1615.9C1511.2,1620.2 1491.8,1620.5 1484.0,1624.4C1476.2,1628.3 1479.2,1619.4 1476.0,1639.4C1472.8,1659.4 1706.0,1726.9 1465.0,1744.4C1224.0,1761.9 269.2,1744.4 30.0,1744.4Z" fill="#4e90d2" stroke="#4e90d2" stroke-width="46" filter="url(#b10)"/>
<path d="M30.0,1150.0C269.2,1150.0 1224.0,1132.5 1465.0,1150.0C1706.0,1167.5 1472.8,1235.0 1476.0,1255.0C1479.2,1275.0 1476.2,1266.1 1484.0,1270.0C1491.8,1273.9 1511.2,1274.2 1523.0,1278.5C1534.8,1282.8 1544.3,1289.6 1555.0,1296.0C1565.7,1302.4 1576.3,1310.3 1587.0,1317.0C1597.7,1323.7 1608.3,1330.3 1619.0,1336.0C1629.7,1341.7 1640.3,1346.4 1651.0,1351.0C1661.7,1355.6 1669.7,1360.7 1683.0,1363.5C1696.3,1366.3 1712.3,1367.4 1731.0,1368.0C1749.7,1368.6 1773.7,1367.8 1795.0,1367.0C1816.3,1366.2 1836.5,1363.8 1859.0,1363.5C1881.5,1363.2 1899.8,1364.2 1930.0,1365.0C1960.2,1365.8 2021.7,1367.5 2040.0,1368.0L2040.0,1526.4C2021.7,1526.9 1960.2,1528.7 1930.0,1529.4C1899.8,1530.2 1881.5,1531.2 1859.0,1530.9C1836.5,1530.6 1816.3,1528.2 1795.0,1527.4C1773.7,1526.7 1749.7,1525.8 1731.0,1526.4C1712.3,1527.0 1696.3,1528.1 1683.0,1530.9C1669.7,1533.7 1661.7,1538.8 1651.0,1543.4C1640.3,1548.0 1629.7,1552.7 1619.0,1558.4C1608.3,1564.1 1597.7,1570.7 1587.0,1577.4C1576.3,1584.1 1565.7,1592.0 1555.0,1598.4C1544.3,1604.8 1534.8,1611.6 1523.0,1615.9C1511.2,1620.2 1491.8,1620.5 1484.0,1624.4C1476.2,1628.3 1479.2,1619.4 1476.0,1639.4C1472.8,1659.4 1706.0,1726.9 1465.0,1744.4C1224.0,1761.9 269.2,1744.4 30.0,1744.4Z" fill="#72c2b8" stroke="#56b8e6" stroke-width="16" filter="url(#b6)"/>
<path d="M30.0,1150.0C93.3,1150.0 345.0,1128.3 410.0,1150.0C475.0,1171.7 416.7,1256.7 420.0,1280.0C423.3,1303.3 420.0,1287.2 430.0,1290.0C440.0,1292.8 465.0,1294.8 480.0,1297.0C495.0,1299.2 506.7,1301.2 520.0,1303.0C533.3,1304.8 543.3,1306.5 560.0,1308.0C576.7,1309.5 586.7,1311.8 620.0,1312.0C653.3,1312.2 711.3,1310.3 760.0,1309.0C808.7,1307.7 858.0,1306.5 912.0,1304.0C966.0,1301.5 1027.7,1297.2 1084.0,1294.0C1140.3,1290.8 1206.3,1287.0 1250.0,1285.0C1293.7,1283.0 1316.0,1282.2 1346.0,1281.7C1376.0,1281.2 1411.2,1280.7 1430.0,1281.7C1448.8,1282.8 1448.4,1284.0 1458.5,1288.0C1468.6,1292.0 1479.9,1299.9 1490.6,1305.8C1501.3,1311.7 1512.0,1317.2 1522.7,1323.4C1533.4,1329.6 1544.1,1336.6 1554.8,1342.7C1565.5,1348.8 1576.2,1354.4 1586.9,1360.3C1597.6,1366.2 1608.3,1372.4 1619.0,1378.0C1629.7,1383.6 1641.4,1389.2 1651.0,1394.0C1660.6,1398.8 1667.6,1403.6 1676.7,1406.8C1685.8,1410.0 1696.8,1409.8 1705.6,1413.0C1714.4,1416.2 1722.1,1425.7 1729.6,1426.0C1737.1,1426.3 1743.3,1417.5 1750.5,1414.8C1757.7,1412.1 1753.8,1411.3 1773.0,1410.0C1792.2,1408.7 1840.9,1407.1 1866.0,1406.8C1891.1,1406.5 1902.9,1406.8 1923.7,1408.4C1944.5,1410.0 1971.6,1414.6 1991.0,1416.5C2010.4,1418.4 2031.8,1419.4 2040.0,1420.0L2040.0,1478.0C2031.8,1478.4 2010.4,1479.1 1991.0,1480.6C1971.6,1482.1 1942.9,1485.4 1923.7,1487.0C1904.5,1488.6 1896.2,1490.2 1875.6,1490.0C1855.0,1489.8 1820.8,1487.8 1800.0,1486.0C1779.2,1484.2 1762.2,1480.7 1750.5,1479.0C1738.8,1477.3 1737.1,1475.5 1729.6,1475.8C1722.1,1476.1 1713.4,1478.7 1705.6,1480.6C1697.8,1482.5 1692.1,1483.3 1683.0,1487.0C1673.9,1490.7 1661.7,1497.7 1651.0,1503.0C1640.3,1508.3 1629.7,1513.2 1619.0,1519.0C1608.3,1524.8 1597.6,1531.6 1586.9,1538.0C1576.2,1544.4 1565.5,1550.8 1554.8,1557.6C1544.1,1564.3 1533.4,1571.8 1522.7,1578.5C1512.0,1585.2 1499.7,1593.2 1490.6,1597.7C1481.5,1602.2 1492.1,1604.2 1468.0,1605.7C1443.9,1607.2 1382.3,1606.4 1346.0,1607.0C1309.7,1607.6 1293.7,1610.5 1250.0,1609.4C1206.3,1608.3 1140.3,1603.6 1084.0,1600.4C1027.7,1597.2 966.0,1592.9 912.0,1590.4C858.0,1587.9 808.7,1586.7 760.0,1585.4C711.3,1584.1 653.3,1582.2 620.0,1582.4C586.7,1582.6 576.7,1584.9 560.0,1586.4C543.3,1587.9 533.3,1589.6 520.0,1591.4C506.7,1593.2 495.0,1595.2 480.0,1597.4C465.0,1599.6 440.0,1601.6 430.0,1604.4C420.0,1607.2 423.3,1591.1 420.0,1614.4C416.7,1637.7 475.0,1722.7 410.0,1744.4C345.0,1766.1 93.3,1744.4 30.0,1744.4Z" fill="#76be88" filter="url(#b7)"/>
<path d="M490,1288L560,1293L640,1293.5L720,1291L800,1286" fill="none" stroke="#46a4dc" stroke-width="13" filter="url(#b3)"/>
<path d="M480.0,1606.4L560.0,1601.4L640.0,1600.9L720.0,1603.4L800.0,1608.4" fill="none" stroke="#46a4dc" stroke-width="13" filter="url(#b3)"/>
<path d="M30.0,1150.0C81.7,1150.0 286.7,1127.5 340.0,1150.0C393.3,1172.5 347.2,1261.0 350.0,1285.0C352.8,1309.0 347.8,1291.5 357.0,1294.0C366.2,1296.5 390.5,1298.0 405.0,1300.0C419.5,1302.0 431.0,1303.7 444.0,1306.0C457.0,1308.3 470.2,1311.5 483.0,1314.0C495.8,1316.5 508.2,1319.0 521.0,1321.0C533.8,1323.0 540.2,1324.8 560.0,1326.0C579.8,1327.2 592.7,1327.7 640.0,1328.0C687.3,1328.3 778.5,1327.8 844.0,1328.0C909.5,1328.2 965.3,1329.2 1033.0,1329.0C1100.7,1328.8 1197.8,1327.3 1250.0,1327.0C1302.2,1326.7 1316.0,1326.7 1346.0,1327.0C1376.0,1327.3 1411.3,1327.7 1430.0,1329.0C1448.7,1330.3 1448.0,1332.0 1458.0,1335.0C1468.0,1338.0 1479.3,1342.3 1490.0,1347.0C1500.7,1351.7 1511.2,1357.8 1522.0,1363.0C1532.8,1368.2 1544.2,1372.8 1555.0,1378.0C1565.8,1383.2 1579.0,1389.2 1587.0,1394.0C1595.0,1398.8 1599.0,1401.5 1603.0,1407.0C1607.0,1412.5 1609.3,1420.3 1611.0,1427.0C1612.7,1433.7 1612.7,1443.8 1613.0,1447.2L1613.0,1447.2C1612.7,1450.6 1612.7,1460.7 1611.0,1467.4C1609.3,1474.1 1607.0,1481.9 1603.0,1487.4C1599.0,1492.9 1595.0,1495.6 1587.0,1500.4C1579.0,1505.2 1565.8,1511.2 1555.0,1516.4C1544.2,1521.6 1532.8,1526.2 1522.0,1531.4C1511.2,1536.6 1500.7,1542.7 1490.0,1547.4C1479.3,1552.1 1468.0,1556.4 1458.0,1559.4C1448.0,1562.4 1448.7,1564.1 1430.0,1565.4C1411.3,1566.7 1376.0,1567.1 1346.0,1567.4C1316.0,1567.7 1302.2,1567.7 1250.0,1567.4C1197.8,1567.1 1100.7,1565.6 1033.0,1565.4C965.3,1565.2 909.5,1566.2 844.0,1566.4C778.5,1566.6 687.3,1566.1 640.0,1566.4C592.7,1566.7 579.8,1567.2 560.0,1568.4C540.2,1569.6 533.8,1571.4 521.0,1573.4C508.2,1575.4 495.8,1577.9 483.0,1580.4C470.2,1582.9 457.0,1586.1 444.0,1588.4C431.0,1590.7 419.5,1592.4 405.0,1594.4C390.5,1596.4 366.2,1597.9 357.0,1600.4C347.8,1602.9 352.8,1585.4 350.0,1609.4C347.2,1633.4 393.3,1721.9 340.0,1744.4C286.7,1766.9 81.7,1744.4 30.0,1744.4Z" fill="#72b640" filter="url(#b6)"/>
<path d="M30.0,1285.0C66.7,1285.8 205.0,1288.2 250.0,1290.0C295.0,1291.8 282.2,1294.5 300.0,1296.0C317.8,1297.5 339.5,1296.8 357.0,1299.0C374.5,1301.2 390.5,1306.0 405.0,1309.0C419.5,1312.0 431.0,1314.3 444.0,1317.0C457.0,1319.7 470.0,1322.2 483.0,1325.0C496.0,1327.8 509.2,1331.8 522.0,1334.0C534.8,1336.2 548.7,1337.0 560.0,1338.0C571.3,1339.0 558.3,1339.5 590.0,1340.0C621.7,1340.5 707.7,1340.2 750.0,1341.0C792.3,1341.8 805.5,1343.2 844.0,1345.0C882.5,1346.8 932.3,1349.7 981.0,1352.0C1029.7,1354.3 1091.2,1357.7 1136.0,1359.0C1180.8,1360.3 1215.0,1359.7 1250.0,1360.0C1285.0,1360.3 1312.8,1360.4 1346.0,1361.0C1379.2,1361.6 1425.0,1361.8 1449.0,1363.5C1473.0,1365.2 1477.8,1368.6 1490.0,1371.5C1502.2,1374.4 1514.0,1377.8 1522.0,1381.0C1530.0,1384.2 1533.7,1387.8 1538.0,1391.0C1542.3,1394.2 1545.0,1394.8 1548.0,1400.0C1551.0,1405.2 1554.3,1414.1 1556.0,1422.0C1557.7,1429.9 1557.7,1443.0 1558.0,1447.2L1558.0,1447.2C1557.7,1451.4 1557.7,1464.5 1556.0,1472.4C1554.3,1480.3 1551.0,1489.2 1548.0,1494.4C1545.0,1499.6 1542.3,1500.2 1538.0,1503.4C1533.7,1506.6 1530.0,1510.2 1522.0,1513.4C1514.0,1516.7 1502.2,1520.0 1490.0,1522.9C1477.8,1525.8 1473.0,1529.2 1449.0,1530.9C1425.0,1532.7 1379.2,1532.8 1346.0,1533.4C1312.8,1534.0 1285.0,1534.1 1250.0,1534.4C1215.0,1534.7 1180.8,1534.1 1136.0,1535.4C1091.2,1536.7 1029.7,1540.1 981.0,1542.4C932.3,1544.7 882.5,1547.6 844.0,1549.4C805.5,1551.2 792.3,1552.6 750.0,1553.4C707.7,1554.2 621.7,1553.9 590.0,1554.4C558.3,1554.9 571.3,1555.4 560.0,1556.4C548.7,1557.4 534.8,1558.2 522.0,1560.4C509.2,1562.6 496.0,1566.6 483.0,1569.4C470.0,1572.2 457.0,1574.7 444.0,1577.4C431.0,1580.1 419.5,1582.4 405.0,1585.4C390.5,1588.4 374.5,1593.2 357.0,1595.4C339.5,1597.6 317.8,1596.9 300.0,1598.4C282.2,1599.9 295.0,1602.6 250.0,1604.4C205.0,1606.2 66.7,1608.6 30.0,1609.4Z" fill="#8ec245" filter="url(#b6)"/>
<path d="M30.0,1296.0C66.7,1296.5 200.0,1297.7 250.0,1299.0C300.0,1300.3 304.2,1300.8 330.0,1304.0C355.8,1307.2 381.7,1312.3 405.0,1318.0C428.3,1323.7 449.2,1331.7 470.0,1338.0C490.8,1344.3 508.3,1352.0 530.0,1356.0C551.7,1360.0 563.3,1361.0 600.0,1362.0C636.7,1363.0 709.3,1361.3 750.0,1362.0C790.7,1362.7 805.5,1364.0 844.0,1366.0C882.5,1368.0 932.3,1371.5 981.0,1374.0C1029.7,1376.5 1091.2,1379.5 1136.0,1381.0C1180.8,1382.5 1215.0,1382.5 1250.0,1383.0C1285.0,1383.5 1316.0,1383.5 1346.0,1384.0C1376.0,1384.5 1408.5,1384.7 1430.0,1386.0C1451.5,1387.3 1462.8,1389.3 1475.0,1392.0C1487.2,1394.7 1495.5,1398.2 1503.0,1402.0C1510.5,1405.8 1515.8,1410.0 1520.0,1415.0C1524.2,1420.0 1526.3,1426.6 1528.0,1432.0C1529.7,1437.4 1529.7,1444.7 1530.0,1447.2L1530.0,1447.2C1529.7,1449.7 1529.7,1457.0 1528.0,1462.4C1526.3,1467.8 1524.2,1474.4 1520.0,1479.4C1515.8,1484.4 1510.5,1488.6 1503.0,1492.4C1495.5,1496.2 1487.2,1499.7 1475.0,1502.4C1462.8,1505.1 1451.5,1507.1 1430.0,1508.4C1408.5,1509.7 1376.0,1509.9 1346.0,1510.4C1316.0,1510.9 1285.0,1510.9 1250.0,1511.4C1215.0,1511.9 1180.8,1511.9 1136.0,1513.4C1091.2,1514.9 1029.7,1517.9 981.0,1520.4C932.3,1522.9 882.5,1526.4 844.0,1528.4C805.5,1530.4 790.7,1531.7 750.0,1532.4C709.3,1533.1 636.7,1531.4 600.0,1532.4C563.3,1533.4 551.7,1534.4 530.0,1538.4C508.3,1542.4 490.8,1550.1 470.0,1556.4C449.2,1562.7 428.3,1570.7 405.0,1576.4C381.7,1582.1 355.8,1587.2 330.0,1590.4C304.2,1593.6 300.0,1594.1 250.0,1595.4C200.0,1596.7 66.7,1597.9 30.0,1598.4Z" fill="#b6d455" filter="url(#b10)"/>
<path d="M30.0,1310.0C37.5,1310.0 38.3,1310.4 75.0,1309.7C111.7,1309.0 211.2,1306.3 250.0,1306.0C288.8,1305.7 291.8,1307.0 308.0,1308.0C324.2,1309.0 334.0,1309.6 347.0,1311.7C360.0,1313.8 373.1,1317.5 386.0,1320.5C398.9,1323.5 411.8,1326.5 424.7,1330.0C437.6,1333.5 450.6,1337.6 463.5,1341.8C476.4,1346.0 489.1,1351.2 502.0,1355.4C514.9,1359.6 531.2,1364.2 541.0,1367.0C550.8,1369.8 550.9,1370.8 560.6,1372.0C570.3,1373.2 575.8,1374.2 599.0,1374.0C622.2,1373.8 671.8,1371.5 700.0,1371.0C728.2,1370.5 749.7,1369.8 768.0,1371.0C786.3,1372.2 798.7,1375.7 810.0,1378.0C821.3,1380.3 830.8,1381.3 836.0,1385.0C841.2,1388.7 840.0,1389.6 841.0,1400.0C842.0,1410.4 841.8,1439.3 842.0,1447.2L842.0,1447.2C841.8,1455.1 842.0,1484.0 841.0,1494.4C840.0,1504.8 841.2,1505.7 836.0,1509.4C830.8,1513.1 821.3,1514.1 810.0,1516.4C798.7,1518.7 786.3,1522.2 768.0,1523.4C749.7,1524.6 728.2,1523.9 700.0,1523.4C671.8,1522.9 622.2,1520.6 599.0,1520.4C575.8,1520.2 570.3,1521.2 560.6,1522.4C550.9,1523.6 550.8,1524.6 541.0,1527.4C531.2,1530.2 514.9,1534.8 502.0,1539.0C489.1,1543.2 476.4,1548.4 463.5,1552.6C450.6,1556.8 437.6,1560.9 424.7,1564.4C411.8,1568.0 398.9,1570.9 386.0,1573.9C373.1,1577.0 360.0,1580.6 347.0,1582.7C334.0,1584.8 324.2,1585.5 308.0,1586.4C291.8,1587.4 288.8,1588.7 250.0,1588.4C211.2,1588.1 111.7,1585.4 75.0,1584.7C38.3,1584.0 37.5,1584.5 30.0,1584.4Z" fill="#d6e05e" filter="url(#b6)"/>
<path d="M30.0,1316.0C66.7,1315.5 205.0,1313.3 250.0,1313.0C295.0,1312.7 284.2,1313.0 300.0,1314.0C315.8,1315.0 330.8,1316.5 345.0,1319.0C359.2,1321.5 371.3,1324.8 385.0,1329.0C398.7,1333.2 414.0,1338.3 427.0,1344.0C440.0,1349.7 452.8,1355.7 463.0,1363.0C473.2,1370.3 481.3,1378.5 488.0,1388.0C494.7,1397.5 499.8,1410.1 503.0,1420.0C506.2,1429.9 506.3,1442.7 507.0,1447.2L507.0,1447.2C506.3,1451.7 506.2,1464.5 503.0,1474.4C499.8,1484.3 494.7,1496.9 488.0,1506.4C481.3,1515.9 473.2,1524.1 463.0,1531.4C452.8,1538.7 440.0,1544.7 427.0,1550.4C414.0,1556.1 398.7,1561.2 385.0,1565.4C371.3,1569.6 359.2,1572.9 345.0,1575.4C330.8,1577.9 315.8,1579.4 300.0,1580.4C284.2,1581.4 295.0,1581.7 250.0,1581.4C205.0,1581.1 66.7,1578.9 30.0,1578.4Z" fill="#f3e653" filter="url(#b6)"/>
<path d="M30.0,1326.0C37.5,1326.0 38.3,1326.9 75.0,1326.0C111.7,1325.1 212.8,1321.3 250.0,1320.5C287.2,1319.7 283.5,1320.5 298.0,1321.4C312.5,1322.3 324.0,1323.6 337.0,1326.0C350.0,1328.4 364.7,1332.5 376.0,1336.0C387.3,1339.5 396.8,1343.2 405.0,1346.7C413.2,1350.2 419.2,1352.6 425.0,1357.0C430.8,1361.4 436.5,1368.1 440.0,1373.0C443.5,1377.9 444.7,1382.0 446.0,1386.5C447.3,1391.0 447.5,1389.9 448.0,1400.0C448.5,1410.1 448.8,1439.3 449.0,1447.2L449.0,1447.2C448.8,1455.1 448.5,1484.3 448.0,1494.4C447.5,1504.5 447.3,1503.4 446.0,1507.9C444.7,1512.4 443.5,1516.5 440.0,1521.4C436.5,1526.3 430.8,1533.0 425.0,1537.4C419.2,1541.8 413.2,1544.2 405.0,1547.7C396.8,1551.2 387.3,1555.0 376.0,1558.4C364.7,1561.9 350.0,1566.0 337.0,1568.4C324.0,1570.8 312.5,1572.1 298.0,1573.0C283.5,1573.9 287.2,1574.7 250.0,1573.9C212.8,1573.1 111.7,1569.3 75.0,1568.4C38.3,1567.5 37.5,1568.4 30.0,1568.4Z" fill="#f59c46" filter="url(#b6)"/>
<path d="M30.0,1340.0C40.0,1341.0 53.3,1346.5 90.0,1346.0C126.7,1345.5 215.3,1338.5 250.0,1337.0C284.7,1335.5 283.8,1336.2 298.0,1337.0C312.2,1337.8 323.3,1339.5 335.0,1342.0C346.7,1344.5 359.2,1348.3 368.0,1352.0C376.8,1355.7 382.7,1359.3 388.0,1364.0C393.3,1368.7 397.0,1374.0 400.0,1380.0C403.0,1386.0 404.7,1388.8 406.0,1400.0C407.3,1411.2 407.7,1439.3 408.0,1447.2L408.0,1447.2C407.7,1455.1 407.3,1483.2 406.0,1494.4C404.7,1505.6 403.0,1508.4 400.0,1514.4C397.0,1520.4 393.3,1525.7 388.0,1530.4C382.7,1535.1 376.8,1538.7 368.0,1542.4C359.2,1546.1 346.7,1549.9 335.0,1552.4C323.3,1554.9 312.2,1556.6 298.0,1557.4C283.8,1558.2 284.7,1558.9 250.0,1557.4C215.3,1555.9 126.7,1548.9 90.0,1548.4C53.3,1547.9 40.0,1553.4 30.0,1554.4Z" fill="#ee7246" filter="url(#b8)"/>
<path d="M98.0,1385.0C99.0,1383.5 101.2,1378.2 104.0,1376.0C106.8,1373.8 105.7,1374.0 115.0,1372.0C124.3,1370.0 141.5,1366.8 160.0,1364.0C178.5,1361.2 204.5,1356.9 226.0,1355.0C247.5,1353.1 273.3,1352.5 289.0,1352.8C304.7,1353.1 311.0,1355.0 320.0,1357.0C329.0,1359.0 337.3,1361.5 343.0,1365.0C348.7,1368.5 351.2,1373.0 354.0,1378.0C356.8,1383.0 358.5,1388.0 360.0,1395.0C361.5,1402.0 362.3,1411.3 363.0,1420.0C363.7,1428.7 364.0,1438.1 364.0,1447.2C364.0,1456.3 363.7,1465.7 363.0,1474.4C362.3,1483.1 361.5,1492.4 360.0,1499.4C358.5,1506.4 356.8,1511.4 354.0,1516.4C351.2,1521.4 348.7,1525.9 343.0,1529.4C337.3,1532.9 329.0,1535.4 320.0,1537.4C311.0,1539.4 304.7,1541.3 289.0,1541.6C273.3,1541.9 247.5,1541.3 226.0,1539.4C204.5,1537.5 178.5,1533.2 160.0,1530.4C141.5,1527.6 124.3,1524.4 115.0,1522.4C105.7,1520.4 106.8,1520.6 104.0,1518.4C101.2,1516.2 99.0,1510.9 98.0,1509.4Z" fill="#e9574a" stroke="#e9574a" stroke-width="10" filter="url(#b7)"/>
<ellipse cx="587" cy="1447" rx="52" ry="50" fill="#b8d557" filter="url(#b5)"/>
<path d="M1587.0,1270.0C1592.3,1273.0 1608.3,1282.3 1619.0,1288.0C1629.7,1293.7 1640.3,1299.5 1651.0,1304.0C1661.7,1308.5 1670.7,1312.0 1683.0,1315.0C1695.3,1318.0 1708.8,1321.3 1725.0,1322.0C1741.2,1322.7 1763.0,1320.2 1780.0,1319.0C1797.0,1317.8 1807.0,1316.2 1827.0,1315.0C1847.0,1313.8 1864.5,1313.2 1900.0,1312.0C1935.5,1310.8 2016.7,1308.7 2040.0,1308.0" fill="none" stroke="#1e3a1e" stroke-opacity="0.75" stroke-width="1.3" stroke-dasharray="16 4 3 4"/>
<path d="M1587.0,1624.4C1592.3,1621.4 1608.3,1612.1 1619.0,1606.4C1629.7,1600.7 1640.3,1594.9 1651.0,1590.4C1661.7,1585.9 1670.7,1582.4 1683.0,1579.4C1695.3,1576.4 1708.8,1573.1 1725.0,1572.4C1741.2,1571.7 1763.0,1574.2 1780.0,1575.4C1797.0,1576.6 1807.0,1578.2 1827.0,1579.4C1847.0,1580.6 1864.5,1581.2 1900.0,1582.4C1935.5,1583.6 2016.7,1585.7 2040.0,1586.4" fill="none" stroke="#1e3a1e" stroke-opacity="0.75" stroke-width="1.3" stroke-dasharray="16 4 3 4"/>
<path d="M1484.0,1270.0C1490.5,1271.4 1511.2,1274.2 1523.0,1278.5C1534.8,1282.8 1544.3,1289.6 1555.0,1296.0C1565.7,1302.4 1576.3,1310.3 1587.0,1317.0C1597.7,1323.7 1608.3,1330.3 1619.0,1336.0C1629.7,1341.7 1640.3,1346.4 1651.0,1351.0C1661.7,1355.6 1669.7,1360.7 1683.0,1363.5C1696.3,1366.3 1712.3,1367.4 1731.0,1368.0C1749.7,1368.6 1773.7,1367.8 1795.0,1367.0C1816.3,1366.2 1836.5,1363.8 1859.0,1363.5C1881.5,1363.2 1899.8,1364.2 1930.0,1365.0C1960.2,1365.8 2021.7,1367.5 2040.0,1368.0" fill="none" stroke="#1e3a1e" stroke-opacity="0.75" stroke-width="1.3" stroke-dasharray="16 4 3 4"/>
<path d="M1484.0,1624.4C1490.5,1623.0 1511.2,1620.2 1523.0,1615.9C1534.8,1611.6 1544.3,1604.8 1555.0,1598.4C1565.7,1592.0 1576.3,1584.1 1587.0,1577.4C1597.7,1570.7 1608.3,1564.1 1619.0,1558.4C1629.7,1552.7 1640.3,1548.0 1651.0,1543.4C1661.7,1538.8 1669.7,1533.7 1683.0,1530.9C1696.3,1528.1 1712.3,1527.0 1731.0,1526.4C1749.7,1525.8 1773.7,1526.7 1795.0,1527.4C1816.3,1528.2 1836.5,1530.6 1859.0,1530.9C1881.5,1531.2 1899.8,1530.2 1930.0,1529.4C1960.2,1528.7 2021.7,1526.9 2040.0,1526.4" fill="none" stroke="#1e3a1e" stroke-opacity="0.75" stroke-width="1.3" stroke-dasharray="16 4 3 4"/>
<path d="M430.0,1290.0C438.3,1291.2 465.0,1294.8 480.0,1297.0C495.0,1299.2 506.7,1301.2 520.0,1303.0C533.3,1304.8 543.3,1306.5 560.0,1308.0C576.7,1309.5 586.7,1311.8 620.0,1312.0C653.3,1312.2 711.3,1310.3 760.0,1309.0C808.7,1307.7 858.0,1306.5 912.0,1304.0C966.0,1301.5 1027.7,1297.2 1084.0,1294.0C1140.3,1290.8 1206.3,1287.0 1250.0,1285.0C1293.7,1283.0 1316.0,1282.2 1346.0,1281.7C1376.0,1281.2 1411.2,1280.7 1430.0,1281.7C1448.8,1282.8 1448.4,1284.0 1458.5,1288.0C1468.6,1292.0 1479.9,1299.9 1490.6,1305.8C1501.3,1311.7 1512.0,1317.2 1522.7,1323.4C1533.4,1329.6 1544.1,1336.6 1554.8,1342.7C1565.5,1348.8 1576.2,1354.4 1586.9,1360.3C1597.6,1366.2 1608.3,1372.4 1619.0,1378.0C1629.7,1383.6 1641.4,1389.2 1651.0,1394.0C1660.6,1398.8 1667.6,1403.6 1676.7,1406.8C1685.8,1410.0 1696.8,1409.8 1705.6,1413.0C1714.4,1416.2 1722.1,1425.7 1729.6,1426.0C1737.1,1426.3 1743.3,1417.5 1750.5,1414.8C1757.7,1412.1 1753.8,1411.3 1773.0,1410.0C1792.2,1408.7 1840.9,1407.1 1866.0,1406.8C1891.1,1406.5 1902.9,1406.8 1923.7,1408.4C1944.5,1410.0 1971.6,1414.6 1991.0,1416.5C2010.4,1418.4 2031.8,1419.4 2040.0,1420.0" fill="none" stroke="#1e3a1e" stroke-opacity="0.75" stroke-width="1.3" stroke-dasharray="16 4 3 4"/>
<path d="M430.0,1604.4C438.3,1603.2 465.0,1599.6 480.0,1597.4C495.0,1595.2 506.7,1593.2 520.0,1591.4C533.3,1589.6 543.3,1587.9 560.0,1586.4C576.7,1584.9 586.7,1582.6 620.0,1582.4C653.3,1582.2 711.3,1584.1 760.0,1585.4C808.7,1586.7 858.0,1587.9 912.0,1590.4C966.0,1592.9 1027.7,1597.2 1084.0,1600.4C1140.3,1603.6 1206.3,1608.3 1250.0,1609.4C1293.7,1610.5 1309.7,1607.6 1346.0,1607.0C1382.3,1606.4 1443.9,1607.2 1468.0,1605.7C1492.1,1604.2 1481.5,1602.2 1490.6,1597.7C1499.7,1593.2 1512.0,1585.2 1522.7,1578.5C1533.4,1571.8 1544.1,1564.3 1554.8,1557.6C1565.5,1550.8 1576.2,1544.4 1586.9,1538.0C1597.6,1531.6 1608.3,1524.8 1619.0,1519.0C1629.7,1513.2 1640.3,1508.3 1651.0,1503.0C1661.7,1497.7 1673.9,1490.7 1683.0,1487.0C1692.1,1483.3 1697.8,1482.5 1705.6,1480.6C1713.4,1478.7 1722.1,1476.1 1729.6,1475.8C1737.1,1475.5 1738.8,1477.3 1750.5,1479.0C1762.2,1480.7 1779.2,1484.2 1800.0,1486.0C1820.8,1487.8 1855.0,1489.8 1875.6,1490.0C1896.2,1490.2 1904.5,1488.6 1923.7,1487.0C1942.9,1485.4 1971.6,1482.1 1991.0,1480.6C2010.4,1479.1 2031.8,1478.4 2040.0,1478.0" fill="none" stroke="#1e3a1e" stroke-opacity="0.75" stroke-width="1.3" stroke-dasharray="16 4 3 4"/>
<path d="M357.0,1294.0C365.0,1295.0 390.5,1298.0 405.0,1300.0C419.5,1302.0 431.0,1303.7 444.0,1306.0C457.0,1308.3 470.2,1311.5 483.0,1314.0C495.8,1316.5 508.2,1319.0 521.0,1321.0C533.8,1323.0 540.2,1324.8 560.0,1326.0C579.8,1327.2 592.7,1327.7 640.0,1328.0C687.3,1328.3 778.5,1327.8 844.0,1328.0C909.5,1328.2 965.3,1329.2 1033.0,1329.0C1100.7,1328.8 1197.8,1327.3 1250.0,1327.0C1302.2,1326.7 1316.0,1326.7 1346.0,1327.0C1376.0,1327.3 1411.3,1327.7 1430.0,1329.0C1448.7,1330.3 1448.0,1332.0 1458.0,1335.0C1468.0,1338.0 1479.3,1342.3 1490.0,1347.0C1500.7,1351.7 1511.2,1357.8 1522.0,1363.0C1532.8,1368.2 1544.2,1372.8 1555.0,1378.0C1565.8,1383.2 1579.0,1389.2 1587.0,1394.0C1595.0,1398.8 1599.0,1401.5 1603.0,1407.0C1607.0,1412.5 1609.3,1420.3 1611.0,1427.0C1612.7,1433.7 1612.7,1443.8 1613.0,1447.2" fill="none" stroke="#1e3a1e" stroke-opacity="0.75" stroke-width="1.3" stroke-dasharray="16 4 3 4"/>
<path d="M357.0,1600.4C365.0,1599.4 390.5,1596.4 405.0,1594.4C419.5,1592.4 431.0,1590.7 444.0,1588.4C457.0,1586.1 470.2,1582.9 483.0,1580.4C495.8,1577.9 508.2,1575.4 521.0,1573.4C533.8,1571.4 540.2,1569.6 560.0,1568.4C579.8,1567.2 592.7,1566.7 640.0,1566.4C687.3,1566.1 778.5,1566.6 844.0,1566.4C909.5,1566.2 965.3,1565.2 1033.0,1565.4C1100.7,1565.6 1197.8,1567.1 1250.0,1567.4C1302.2,1567.7 1316.0,1567.7 1346.0,1567.4C1376.0,1567.1 1411.3,1566.7 1430.0,1565.4C1448.7,1564.1 1448.0,1562.4 1458.0,1559.4C1468.0,1556.4 1479.3,1552.1 1490.0,1547.4C1500.7,1542.7 1511.2,1536.6 1522.0,1531.4C1532.8,1526.2 1544.2,1521.6 1555.0,1516.4C1565.8,1511.2 1579.0,1505.2 1587.0,1500.4C1595.0,1495.6 1599.0,1492.9 1603.0,1487.4C1607.0,1481.9 1609.3,1474.1 1611.0,1467.4C1612.7,1460.7 1612.7,1450.6 1613.0,1447.2" fill="none" stroke="#1e3a1e" stroke-opacity="0.75" stroke-width="1.3" stroke-dasharray="16 4 3 4"/>
<path d="M357.0,1299.0C365.0,1300.7 390.5,1306.0 405.0,1309.0C419.5,1312.0 431.0,1314.3 444.0,1317.0C457.0,1319.7 470.0,1322.2 483.0,1325.0C496.0,1327.8 509.2,1331.8 522.0,1334.0C534.8,1336.2 548.7,1337.0 560.0,1338.0C571.3,1339.0 558.3,1339.5 590.0,1340.0C621.7,1340.5 707.7,1340.2 750.0,1341.0C792.3,1341.8 805.5,1343.2 844.0,1345.0C882.5,1346.8 932.3,1349.7 981.0,1352.0C1029.7,1354.3 1091.2,1357.7 1136.0,1359.0C1180.8,1360.3 1215.0,1359.7 1250.0,1360.0C1285.0,1360.3 1312.8,1360.4 1346.0,1361.0C1379.2,1361.6 1425.0,1361.8 1449.0,1363.5C1473.0,1365.2 1477.8,1368.6 1490.0,1371.5C1502.2,1374.4 1514.0,1377.8 1522.0,1381.0C1530.0,1384.2 1533.7,1387.8 1538.0,1391.0C1542.3,1394.2 1545.0,1394.8 1548.0,1400.0C1551.0,1405.2 1554.3,1414.1 1556.0,1422.0C1557.7,1429.9 1557.7,1443.0 1558.0,1447.2" fill="none" stroke="#1e3a1e" stroke-opacity="0.75" stroke-width="1.3" stroke-dasharray="16 4 3 4"/>
<path d="M357.0,1595.4C365.0,1593.7 390.5,1588.4 405.0,1585.4C419.5,1582.4 431.0,1580.1 444.0,1577.4C457.0,1574.7 470.0,1572.2 483.0,1569.4C496.0,1566.6 509.2,1562.6 522.0,1560.4C534.8,1558.2 548.7,1557.4 560.0,1556.4C571.3,1555.4 558.3,1554.9 590.0,1554.4C621.7,1553.9 707.7,1554.2 750.0,1553.4C792.3,1552.6 805.5,1551.2 844.0,1549.4C882.5,1547.6 932.3,1544.7 981.0,1542.4C1029.7,1540.1 1091.2,1536.7 1136.0,1535.4C1180.8,1534.1 1215.0,1534.7 1250.0,1534.4C1285.0,1534.1 1312.8,1534.0 1346.0,1533.4C1379.2,1532.8 1425.0,1532.7 1449.0,1530.9C1473.0,1529.2 1477.8,1525.8 1490.0,1522.9C1502.2,1520.0 1514.0,1516.7 1522.0,1513.4C1530.0,1510.2 1533.7,1506.6 1538.0,1503.4C1542.3,1500.2 1545.0,1499.6 1548.0,1494.4C1551.0,1489.2 1554.3,1480.3 1556.0,1472.4C1557.7,1464.5 1557.7,1451.4 1558.0,1447.2" fill="none" stroke="#1e3a1e" stroke-opacity="0.75" stroke-width="1.3" stroke-dasharray="16 4 3 4"/>
<path d="M75.0,1309.7C104.2,1309.1 211.2,1306.3 250.0,1306.0C288.8,1305.7 291.8,1307.0 308.0,1308.0C324.2,1309.0 334.0,1309.6 347.0,1311.7C360.0,1313.8 373.1,1317.5 386.0,1320.5C398.9,1323.5 411.8,1326.5 424.7,1330.0C437.6,1333.5 450.6,1337.6 463.5,1341.8C476.4,1346.0 489.1,1351.2 502.0,1355.4C514.9,1359.6 531.2,1364.2 541.0,1367.0C550.8,1369.8 550.9,1370.8 560.6,1372.0C570.3,1373.2 575.8,1374.2 599.0,1374.0C622.2,1373.8 671.8,1371.5 700.0,1371.0C728.2,1370.5 749.7,1369.8 768.0,1371.0C786.3,1372.2 798.7,1375.7 810.0,1378.0C821.3,1380.3 830.8,1381.3 836.0,1385.0C841.2,1388.7 840.0,1389.6 841.0,1400.0C842.0,1410.4 841.8,1439.3 842.0,1447.2" fill="none" stroke="#1e3a1e" stroke-opacity="0.75" stroke-width="1.3" stroke-dasharray="16 4 3 4"/>
<path d="M75.0,1584.7C104.2,1585.3 211.2,1588.1 250.0,1588.4C288.8,1588.7 291.8,1587.4 308.0,1586.4C324.2,1585.5 334.0,1584.8 347.0,1582.7C360.0,1580.6 373.1,1577.0 386.0,1573.9C398.9,1570.9 411.8,1568.0 424.7,1564.4C437.6,1560.9 450.6,1556.8 463.5,1552.6C476.4,1548.4 489.1,1543.2 502.0,1539.0C514.9,1534.8 531.2,1530.2 541.0,1527.4C550.8,1524.6 550.9,1523.6 560.6,1522.4C570.3,1521.2 575.8,1520.2 599.0,1520.4C622.2,1520.6 671.8,1522.9 700.0,1523.4C728.2,1523.9 749.7,1524.6 768.0,1523.4C786.3,1522.2 798.7,1518.7 810.0,1516.4C821.3,1514.1 830.8,1513.1 836.0,1509.4C841.2,1505.7 840.0,1504.8 841.0,1494.4C842.0,1484.0 841.8,1455.1 842.0,1447.2" fill="none" stroke="#1e3a1e" stroke-opacity="0.75" stroke-width="1.3" stroke-dasharray="16 4 3 4"/>
<path d="M75.0,1326.0C104.2,1325.1 212.8,1321.3 250.0,1320.5C287.2,1319.7 283.5,1320.5 298.0,1321.4C312.5,1322.3 324.0,1323.6 337.0,1326.0C350.0,1328.4 364.7,1332.5 376.0,1336.0C387.3,1339.5 396.8,1343.2 405.0,1346.7C413.2,1350.2 419.2,1352.6 425.0,1357.0C430.8,1361.4 436.5,1368.1 440.0,1373.0C443.5,1377.9 444.7,1382.0 446.0,1386.5C447.3,1391.0 447.5,1389.9 448.0,1400.0C448.5,1410.1 448.8,1439.3 449.0,1447.2" fill="none" stroke="#1e3a1e" stroke-opacity="0.75" stroke-width="1.3" stroke-dasharray="16 4 3 4"/>
<path d="M75.0,1568.4C104.2,1569.3 212.8,1573.1 250.0,1573.9C287.2,1574.7 283.5,1573.9 298.0,1573.0C312.5,1572.1 324.0,1570.8 337.0,1568.4C350.0,1566.0 364.7,1561.9 376.0,1558.4C387.3,1555.0 396.8,1551.2 405.0,1547.7C413.2,1544.2 419.2,1541.8 425.0,1537.4C430.8,1533.0 436.5,1526.3 440.0,1521.4C443.5,1516.5 444.7,1512.4 446.0,1507.9C447.3,1503.4 447.5,1504.5 448.0,1494.4C448.5,1484.3 448.8,1455.1 449.0,1447.2" fill="none" stroke="#1e3a1e" stroke-opacity="0.75" stroke-width="1.3" stroke-dasharray="16 4 3 4"/>
<path d="M98.0,1385.0C99.0,1383.5 101.2,1378.2 104.0,1376.0C106.8,1373.8 105.7,1374.0 115.0,1372.0C124.3,1370.0 141.5,1366.8 160.0,1364.0C178.5,1361.2 204.5,1356.9 226.0,1355.0C247.5,1353.1 273.3,1352.5 289.0,1352.8C304.7,1353.1 311.0,1355.0 320.0,1357.0C329.0,1359.0 337.3,1361.5 343.0,1365.0C348.7,1368.5 351.2,1373.0 354.0,1378.0C356.8,1383.0 358.5,1388.0 360.0,1395.0C361.5,1402.0 362.3,1411.3 363.0,1420.0C363.7,1428.7 364.0,1438.1 364.0,1447.2C364.0,1456.3 363.7,1465.7 363.0,1474.4C362.3,1483.1 361.5,1492.4 360.0,1499.4C358.5,1506.4 356.8,1511.4 354.0,1516.4C351.2,1521.4 348.7,1525.9 343.0,1529.4C337.3,1532.9 329.0,1535.4 320.0,1537.4C311.0,1539.4 304.7,1541.3 289.0,1541.6C273.3,1541.9 247.5,1541.3 226.0,1539.4C204.5,1537.5 178.5,1533.2 160.0,1530.4C141.5,1527.6 124.3,1524.4 115.0,1522.4C105.7,1520.4 106.8,1520.6 104.0,1518.4C101.2,1516.2 99.0,1510.9 98.0,1509.4Z" fill="none" stroke="#1e3a1e" stroke-opacity="0.75" stroke-width="1.3" stroke-dasharray="16 4 3 4"/>
<path d="M533.0,1447.0L538.0,1420.0L552.0,1397.0L580.0,1400.0L610.0,1412.0L630.0,1430.0L639.0,1447.0L630.0,1468.0L610.0,1485.0L580.0,1494.0L552.0,1498.0L538.0,1475.0Z" fill="none" stroke="#1e3a1e" stroke-opacity="0.75" stroke-width="1.3" stroke-dasharray="16 4 3 4"/>
</g>
<g transform="translate(358.5,1453) rotate(87)"><rect x="-47.5" y="-18.5" width="95" height="37" fill="#fff"/><text x="0" y="15.2" text-anchor="middle" font-size="42.5" stroke="#1a1a1a" stroke-width="0.5">1.60</text></g>
<g transform="translate(449,1441) rotate(90)"><rect x="-47.5" y="-18.5" width="95" height="37" fill="#fff"/><text x="0" y="15.2" text-anchor="middle" font-size="42.5" stroke="#1a1a1a" stroke-width="0.5">1.40</text></g>
<g transform="translate(835.5,1442.5) rotate(-86)"><rect x="-47.5" y="-18.5" width="95" height="37" fill="#fff"/><text x="0" y="15.2" text-anchor="middle" font-size="42.5" stroke="#1a1a1a" stroke-width="0.5">1.20</text></g>
<g transform="translate(575.5,1304.5) rotate(0)"><rect x="-47.5" y="-18.5" width="95" height="37" fill="#fff"/><text x="0" y="15.2" text-anchor="middle" font-size="42.5" stroke="#1a1a1a" stroke-width="0.5">0.40</text></g>
<g transform="translate(558,1596) rotate(0)"><rect x="-47.5" y="-18.5" width="95" height="37" fill="#fff"/><text x="0" y="15.2" text-anchor="middle" font-size="42.5" stroke="#1a1a1a" stroke-width="0.5">0.40</text></g>
<g transform="translate(1553,1443.5) rotate(90)"><rect x="-47.5" y="-18.5" width="95" height="37" fill="#fff"/><text x="0" y="15.2" text-anchor="middle" font-size="42.5" stroke="#1a1a1a" stroke-width="0.5">1.00</text></g>
<g transform="translate(1617,1443.5) rotate(-90)"><rect x="-47.5" y="-18.5" width="95" height="37" fill="#fff"/><text x="0" y="15.2" text-anchor="middle" font-size="42.5" stroke="#1a1a1a" stroke-width="0.5">0.80</text></g>
<g transform="translate(1774,1322) rotate(-2)"><rect x="-47.5" y="-18.5" width="95" height="37" fill="#fff"/><text x="0" y="15.2" text-anchor="middle" font-size="42.5" stroke="#1a1a1a" stroke-width="0.5">0.20</text></g>
<g transform="translate(1909,1362.5) rotate(1)"><rect x="-47.5" y="-18.5" width="95" height="37" fill="#fff"/><text x="0" y="15.2" text-anchor="middle" font-size="42.5" stroke="#1a1a1a" stroke-width="0.5">0.40</text></g>
<g transform="translate(1818,1404.5) rotate(-3)"><rect x="-47.5" y="-18.5" width="95" height="37" fill="#fff"/><text x="0" y="15.2" text-anchor="middle" font-size="42.5" stroke="#1a1a1a" stroke-width="0.5">0.60</text></g>
<g transform="translate(1813.5,1492.5) rotate(5)"><rect x="-47.5" y="-18.5" width="95" height="37" fill="#fff"/><text x="0" y="15.2" text-anchor="middle" font-size="42.5" stroke="#1a1a1a" stroke-width="0.5">0.60</text></g>
<g transform="translate(1902.5,1537) rotate(2)"><rect x="-47.5" y="-18.5" width="95" height="37" fill="#fff"/><text x="0" y="15.2" text-anchor="middle" font-size="42.5" stroke="#1a1a1a" stroke-width="0.5">0.40</text></g>
<g transform="translate(1786,1576) rotate(4)"><rect x="-47.5" y="-18.5" width="95" height="37" fill="#fff"/><text x="0" y="15.2" text-anchor="middle" font-size="42.5" stroke="#1a1a1a" stroke-width="0.5">0.20</text></g>
<line x1="1709" y1="1240" x2="1709" y2="1272" stroke="#555" stroke-width="1.5"/>
<rect x="1709.5" y="1256" width="16" height="15.5" fill="#fff" stroke="#999" stroke-width="1"/>
<path d="M1727,1272.5L1772,1272.5M1770,1269l6,6m0,-6l-6,6" stroke="#5a4ab0" stroke-width="1.4" fill="none"/>
<line x1="88" y1="1252.3" x2="1998" y2="1252.3" stroke="#1a1512" stroke-width="8" stroke-dasharray="30.5 23.94" stroke-dashoffset="0"/>
<line x1="73" y1="1258" x2="73" y2="1731" stroke="#1a1512" stroke-width="8.5" stroke-dasharray="33 22.2" stroke-dashoffset="0"/>
<line x1="101" y1="1726" x2="1990" y2="1726" stroke="#1a1512" stroke-width="8.5" stroke-dasharray="31 23.44" stroke-dashoffset="0"/>
<line x1="1994" y1="1241.9" x2="1994" y2="1718" stroke="#1a1512" stroke-width="8.5" stroke-dasharray="33 22.6" stroke-dashoffset="0"/>
<line x1="76.5" y1="1240" x2="76.5" y2="1646" stroke="#666" stroke-width="1.2"/>
<text class="se" x="113.5" y="1707.5" font-size="63.5" textLength="146.5" lengthAdjust="spacing"><tspan class="it">Ma</tspan>&gt;1</text>
<text class="se" x="868.5" y="1707.5" font-size="63.5" textLength="262" lengthAdjust="spacing"><tspan class="it">Ma</tspan>=1~1.2</text>
<text class="se" x="1754.5" y="1707.5" font-size="63.5" textLength="146.5" lengthAdjust="spacing"><tspan class="it">Ma</tspan>&lt;1</text>
<g clip-path="url(#cpI2)">
<rect x="2100" y="1230" width="1360" height="460" fill="url(#gI2)"/>
<rect x="2100" y="1560" width="790" height="120" fill="url(#gI2b)"/>
</g>
<line x1="2118" y1="1254.5" x2="3439" y2="1254.5" stroke="#1a1512" stroke-width="8" stroke-dasharray="30.4 23.96" stroke-dashoffset="17.8"/>
<line x1="2118.5" y1="1254" x2="2118.5" y2="1714" stroke="#1a1512" stroke-width="8" stroke-dasharray="33.5 22" stroke-dashoffset="13.9"/>
<line x1="2146.6" y1="1711.3" x2="3430" y2="1711.3" stroke="#1a1512" stroke-width="7.5" stroke-dasharray="30.4 24.03" stroke-dashoffset="0"/>
<line x1="3435" y1="1269.4" x2="3435" y2="1694" stroke="#1a1512" stroke-width="7" stroke-dasharray="31.5 24.5" stroke-dashoffset="0"/>
<path d="M2127,1322.5 L2500,1319 L2948,1316.5 C3015,1316 3046,1325 3059,1349 C3070,1368 3075,1387 3076,1410 C3077,1440 3071,1462 3064,1485" fill="none" stroke="#1a1512" stroke-width="6.2" stroke-linecap="round" stroke-linejoin="round"/>
<path d="M2127,1403 L2960,1403 C3000,1403 3035,1403 3068,1408" fill="none" stroke="#1a1512" stroke-width="6.2" stroke-linecap="round" stroke-linejoin="round"/>
<path d="M2127,1493.5 L3058,1493.5" fill="none" stroke="#1a1512" stroke-width="6.2" stroke-linecap="round" stroke-linejoin="round"/>
<path d="M2127,1596 L2500,1600 L2960,1603 C3000,1603 3022,1598 3034,1575 C3044,1555 3042,1530 3050,1510 L3064,1485" fill="none" stroke="#1a1512" stroke-width="6.2" stroke-linecap="round" stroke-linejoin="round"/>
<path transform="translate(2152.7,1322.312180267966) rotate(0)" d="M0,-19.5L63,0L0,19.5Z" fill="#1a1512"/>
<path transform="translate(2322,1321.0749086479902) rotate(0)" d="M0,-19.5L63,0L0,19.5Z" fill="#1a1512"/>
<path transform="translate(2484,1319.8909866017052) rotate(0)" d="M0,-19.5L63,0L0,19.5Z" fill="#1a1512"/>
<path transform="translate(2656,1318.6339829476249) rotate(0)" d="M0,-19.5L63,0L0,19.5Z" fill="#1a1512"/>
<path transform="translate(2826,1317.3915956151036) rotate(0)" d="M0,-19.5L63,0L0,19.5Z" fill="#1a1512"/>
<path transform="translate(2986.5,1315.6) rotate(20)" d="M0,-18.5L68,0L0,18.5Z" fill="#1a1512"/>
<path transform="translate(2169,1403) rotate(0)" d="M0,-19.5L63,0L0,19.5Z" fill="#1a1512"/>
<path transform="translate(2360,1403) rotate(0)" d="M0,-19.5L63,0L0,19.5Z" fill="#1a1512"/>
<path transform="translate(2520,1403) rotate(0)" d="M0,-19.5L63,0L0,19.5Z" fill="#1a1512"/>
<path transform="translate(2694,1403) rotate(0)" d="M0,-19.5L63,0L0,19.5Z" fill="#1a1512"/>
<path transform="translate(2864,1403) rotate(0)" d="M0,-19.5L63,0L0,19.5Z" fill="#1a1512"/>
<path transform="translate(2997,1403) rotate(3)" d="M0,-19.0L70,0L0,19.0Z" fill="#1a1512"/>
<path transform="translate(2165,1493.5) rotate(0)" d="M0,-19.5L63,0L0,19.5Z" fill="#1a1512"/>
<path transform="translate(2346,1493.5) rotate(0)" d="M0,-19.5L63,0L0,19.5Z" fill="#1a1512"/>
<path transform="translate(2503.5,1493.5) rotate(0)" d="M0,-19.5L63,0L0,19.5Z" fill="#1a1512"/>
<path transform="translate(2672,1493.5) rotate(0)" d="M0,-19.5L63,0L0,19.5Z" fill="#1a1512"/>
<path transform="translate(2838.7,1493.5) rotate(0)" d="M0,-19.5L63,0L0,19.5Z" fill="#1a1512"/>
<path transform="translate(2982,1493.5) rotate(0)" d="M0,-19.0L66,0L0,19.0Z" fill="#1a1512"/>
<path transform="translate(2131,1596.0337349397591) rotate(0)" d="M0,-19.5L63,0L0,19.5Z" fill="#1a1512"/>
<path transform="translate(2286,1597.3409638554217) rotate(0)" d="M0,-19.5L63,0L0,19.5Z" fill="#1a1512"/>
<path transform="translate(2451,1598.732530120482) rotate(0)" d="M0,-19.5L63,0L0,19.5Z" fill="#1a1512"/>
<path transform="translate(2627,1600.2168674698796) rotate(0)" d="M0,-19.5L63,0L0,19.5Z" fill="#1a1512"/>
<path transform="translate(2802,1601.6927710843374) rotate(0)" d="M0,-19.5L63,0L0,19.5Z" fill="#1a1512"/>
<path transform="translate(2945,1604) rotate(-7)" d="M0,-19.0L68,0L0,19.0Z" fill="#1a1512"/>
<path transform="translate(3077,1381) rotate(97)" d="M0,-18.0L66,0L0,18.0Z" fill="#1a1512"/>
<path transform="translate(3049,1531.5) rotate(-78)" d="M0,-17.5L61,0L0,17.5Z" fill="#1a1512"/>
<text class="cj" x="3175.5" y="1450.5" font-size="63" style="fill:#ffffff">流动</text>
<text class="cj" x="3175.5" y="1532.5" font-size="63" style="fill:#ffffff">滞止</text>
</svg>
</body></html>
